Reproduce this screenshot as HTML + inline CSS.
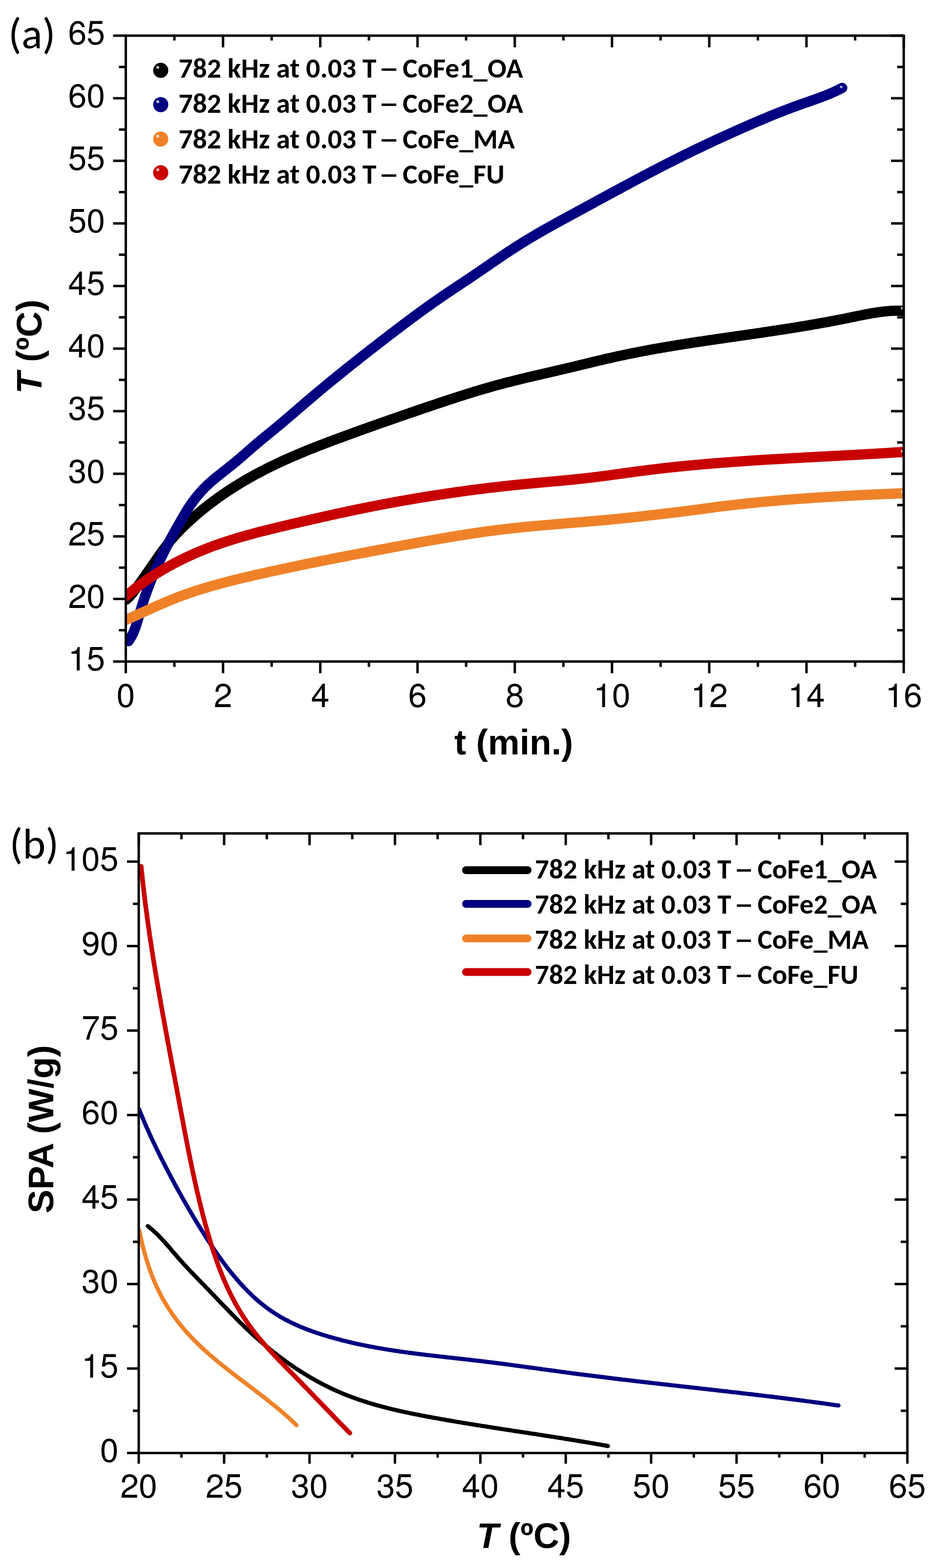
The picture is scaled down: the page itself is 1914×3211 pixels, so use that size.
<!DOCTYPE html>
<html><head><meta charset="utf-8"><title>Heating curves and SPA</title>
<style>html,body{margin:0;padding:0;background:#fff;} svg{display:block;}</style></head>
<body><svg width="1914" height="3211" viewBox="0 0 1914 3211">
<rect width="1914" height="3211" fill="#fff"/>
<defs><clipPath id="ca"><rect x="257.5" y="73.0" width="1592.5" height="1281.7"/></clipPath><clipPath id="cb"><rect x="284.0" y="1706.7285714285715" width="1573.4" height="1268.7714285714285"/></clipPath></defs>
<path d="M258.5,1228.0 L261.2,1225.6 L263.8,1223.0 L266.4,1220.2 L269.0,1217.2 L271.5,1214.1 L273.9,1211.0 L276.4,1207.8 L278.8,1204.5 L281.2,1201.3 L283.6,1198.0 L285.9,1194.8 L288.2,1191.6 L290.5,1188.4 L292.8,1185.2 L295.1,1181.9 L297.4,1178.7 L299.6,1175.5 L301.9,1172.2 L304.1,1169.0 L306.4,1165.7 L308.7,1162.4 L310.9,1159.1 L313.2,1155.8 L315.5,1152.5 L317.8,1149.2 L320.1,1145.8 L322.4,1142.5 L324.7,1139.2 L327.1,1135.8 L329.5,1132.5 L331.9,1129.2 L334.3,1125.9 L336.7,1122.7 L339.2,1119.4 L341.7,1116.2 L344.2,1113.0 L346.7,1109.9 L349.3,1106.7 L351.9,1103.7 L354.6,1100.6 L357.3,1097.6 L360.0,1094.6 L362.7,1091.7 L365.5,1088.8 L368.2,1085.9 L371.0,1083.0 L373.9,1080.2 L376.7,1077.4 L379.6,1074.6 L382.5,1071.8 L385.4,1069.1 L388.3,1066.4 L391.3,1063.7 L394.3,1061.1 L397.2,1058.4 L400.2,1055.8 L403.3,1053.2 L406.3,1050.6 L409.3,1048.1 L412.4,1045.5 L415.5,1043.0 L418.6,1040.5 L421.7,1038.0 L424.8,1035.6 L428.0,1033.1 L431.1,1030.7 L434.3,1028.3 L437.5,1026.0 L440.7,1023.6 L443.9,1021.3 L447.1,1018.9 L450.4,1016.6 L453.6,1014.4 L456.9,1012.1 L460.2,1009.9 L463.4,1007.6 L466.7,1005.4 L470.1,1003.3 L473.4,1001.1 L476.7,998.9 L480.1,996.8 L483.5,994.7 L486.8,992.6 L490.2,990.5 L493.6,988.5 L497.0,986.4 L500.5,984.4 L503.9,982.4 L507.3,980.4 L510.8,978.4 L514.3,976.5 L517.7,974.6 L521.2,972.6 L524.7,970.7 L528.2,968.9 L531.7,967.0 L535.3,965.1 L538.8,963.3 L542.3,961.5 L545.9,959.7 L549.4,957.9 L553.0,956.1 L556.6,954.4 L560.2,952.7 L563.8,950.9 L567.4,949.2 L571.0,947.5 L574.6,945.8 L578.2,944.2 L581.8,942.5 L585.5,940.9 L589.1,939.3 L592.7,937.7 L596.4,936.0 L600.1,934.5 L603.7,932.9 L607.4,931.3 L611.1,929.8 L614.8,928.2 L618.4,926.7 L622.1,925.2 L625.8,923.6 L629.5,922.1 L633.2,920.6 L637.0,919.1 L640.7,917.7 L644.4,916.2 L648.1,914.7 L651.8,913.3 L655.6,911.8 L659.3,910.4 L663.0,908.9 L666.8,907.5 L670.5,906.1 L674.3,904.7 L678.0,903.3 L681.8,901.8 L685.5,900.4 L689.3,899.0 L693.0,897.7 L696.8,896.3 L700.6,894.9 L704.3,893.5 L708.1,892.1 L711.8,890.7 L715.6,889.3 L719.4,888.0 L723.1,886.6 L726.9,885.2 L730.7,883.9 L734.5,882.5 L738.2,881.2 L742.0,879.8 L745.8,878.4 L749.6,877.1 L753.3,875.7 L757.1,874.4 L760.9,873.1 L764.7,871.7 L768.5,870.4 L772.3,869.0 L776.0,867.7 L779.8,866.4 L783.6,865.0 L787.4,863.7 L791.2,862.4 L795.0,861.1 L798.8,859.7 L802.6,858.4 L806.4,857.1 L810.2,855.8 L814.0,854.4 L817.8,853.1 L821.6,851.8 L825.4,850.5 L829.2,849.2 L833.0,847.9 L836.8,846.6 L840.6,845.3 L844.4,844.0 L848.2,842.7 L852.0,841.3 L855.8,840.0 L859.6,838.7 L863.5,837.4 L867.3,836.1 L871.1,834.8 L874.9,833.5 L878.7,832.2 L882.5,830.9 L886.4,829.7 L890.2,828.4 L894.0,827.1 L897.8,825.8 L901.7,824.5 L905.5,823.2 L909.3,822.0 L913.1,820.7 L917.0,819.4 L920.8,818.2 L924.6,816.9 L928.5,815.7 L932.3,814.4 L936.1,813.2 L940.0,811.9 L943.8,810.7 L947.7,809.5 L951.5,808.3 L955.3,807.1 L959.2,805.9 L963.0,804.7 L966.9,803.5 L970.7,802.3 L974.6,801.1 L978.4,800.0 L982.3,798.8 L986.1,797.7 L989.9,796.5 L993.8,795.4 L997.7,794.3 L1001.5,793.2 L1005.4,792.1 L1009.2,791.0 L1013.1,789.9 L1016.9,788.9 L1020.8,787.8 L1024.6,786.8 L1028.5,785.8 L1032.4,784.7 L1036.2,783.7 L1040.1,782.7 L1044.0,781.8 L1047.8,780.8 L1051.7,779.8 L1055.6,778.9 L1059.4,777.9 L1063.3,777.0 L1067.2,776.0 L1071.0,775.1 L1074.9,774.2 L1078.8,773.2 L1082.6,772.3 L1086.5,771.4 L1090.4,770.5 L1094.3,769.6 L1098.1,768.7 L1102.0,767.8 L1105.9,766.9 L1109.8,766.0 L1113.7,765.1 L1117.5,764.2 L1121.4,763.3 L1125.3,762.4 L1129.2,761.5 L1133.1,760.6 L1137.0,759.7 L1140.9,758.8 L1144.7,757.9 L1148.6,757.0 L1152.5,756.1 L1156.4,755.2 L1160.3,754.2 L1164.2,753.3 L1168.1,752.4 L1172.0,751.4 L1175.9,750.5 L1179.8,749.6 L1183.7,748.6 L1187.6,747.7 L1191.5,746.7 L1195.4,745.8 L1199.3,744.8 L1203.2,743.9 L1207.1,743.0 L1211.0,742.0 L1214.9,741.1 L1218.8,740.2 L1222.7,739.2 L1226.6,738.3 L1230.5,737.4 L1234.4,736.5 L1238.3,735.5 L1242.2,734.6 L1246.1,733.7 L1250.0,732.9 L1253.9,732.0 L1257.8,731.1 L1261.7,730.2 L1265.6,729.4 L1269.6,728.5 L1273.5,727.7 L1277.4,726.9 L1281.3,726.0 L1285.2,725.2 L1289.1,724.4 L1293.0,723.6 L1297.0,722.9 L1300.9,722.1 L1304.8,721.3 L1308.7,720.5 L1312.6,719.8 L1316.6,719.0 L1320.5,718.3 L1324.4,717.6 L1328.3,716.8 L1332.2,716.1 L1336.2,715.4 L1340.1,714.7 L1344.0,714.0 L1347.9,713.3 L1351.9,712.6 L1355.8,711.9 L1359.7,711.3 L1363.7,710.6 L1367.6,709.9 L1371.5,709.3 L1375.4,708.6 L1379.4,708.0 L1383.3,707.3 L1387.2,706.7 L1391.2,706.1 L1395.1,705.4 L1399.0,704.8 L1403.0,704.2 L1406.9,703.6 L1410.8,703.0 L1414.8,702.3 L1418.7,701.7 L1422.6,701.1 L1426.6,700.5 L1430.5,699.9 L1434.5,699.3 L1438.4,698.8 L1442.3,698.2 L1446.3,697.6 L1450.2,697.0 L1454.1,696.4 L1458.1,695.8 L1462.0,695.3 L1466.0,694.7 L1469.9,694.1 L1473.9,693.5 L1477.8,693.0 L1481.7,692.4 L1485.7,691.8 L1489.6,691.3 L1493.6,690.7 L1497.5,690.1 L1501.5,689.6 L1505.4,689.0 L1509.4,688.4 L1513.3,687.9 L1517.3,687.3 L1521.2,686.7 L1525.2,686.1 L1529.1,685.6 L1533.1,685.0 L1537.0,684.4 L1541.0,683.9 L1544.9,683.3 L1548.9,682.7 L1552.8,682.1 L1556.8,681.6 L1560.7,681.0 L1564.7,680.4 L1568.6,679.8 L1572.6,679.2 L1576.5,678.6 L1580.5,678.0 L1584.4,677.4 L1588.4,676.8 L1592.3,676.2 L1596.3,675.6 L1600.3,675.0 L1604.2,674.4 L1608.2,673.8 L1612.1,673.2 L1616.1,672.6 L1620.0,671.9 L1624.0,671.3 L1628.0,670.7 L1631.9,670.0 L1635.9,669.4 L1639.8,668.7 L1643.8,668.1 L1647.8,667.4 L1651.7,666.8 L1655.7,666.1 L1659.6,665.4 L1663.6,664.7 L1667.6,664.0 L1671.5,663.3 L1675.5,662.6 L1679.4,661.9 L1683.4,661.2 L1687.4,660.5 L1691.3,659.8 L1695.3,659.1 L1699.3,658.3 L1703.2,657.6 L1707.2,656.8 L1711.1,656.1 L1715.1,655.3 L1719.1,654.5 L1723.0,653.8 L1727.0,653.0 L1731.0,652.2 L1734.9,651.4 L1738.9,650.6 L1742.9,649.7 L1746.8,648.9 L1750.8,648.1 L1754.8,647.3 L1758.7,646.5 L1762.7,645.7 L1766.7,644.9 L1770.6,644.1 L1774.6,643.3 L1778.6,642.6 L1782.5,641.9 L1786.5,641.2 L1790.5,640.6 L1794.4,640.0 L1798.4,639.4 L1802.4,638.8 L1806.3,638.3 L1810.3,637.9 L1814.3,637.5 L1818.2,637.1 L1822.2,636.8 L1826.2,636.6 L1830.1,636.4 L1834.1,636.3 L1838.1,636.3 L1842.0,636.3 L1846.0,636.4" fill="none" stroke="#000000" stroke-width="21" stroke-linecap="round" stroke-linejoin="round" clip-path="url(#ca)"/>
<path d="M263.0,1313.0 L265.3,1309.7 L267.4,1306.3 L269.4,1302.9 L271.2,1299.4 L272.9,1295.9 L274.4,1292.3 L275.8,1288.7 L277.2,1285.0 L278.4,1281.3 L279.7,1277.6 L280.8,1273.8 L281.9,1270.1 L283.0,1266.3 L284.1,1262.4 L285.3,1258.6 L286.4,1254.7 L287.5,1250.9 L288.7,1247.0 L289.9,1243.1 L291.1,1239.3 L292.3,1235.4 L293.6,1231.5 L294.8,1227.7 L296.1,1223.8 L297.4,1220.0 L298.8,1216.2 L300.1,1212.3 L301.5,1208.6 L302.9,1204.8 L304.3,1201.0 L305.7,1197.3 L307.2,1193.6 L308.7,1189.8 L310.2,1186.1 L311.7,1182.4 L313.2,1178.8 L314.8,1175.1 L316.3,1171.4 L317.9,1167.8 L319.5,1164.1 L321.2,1160.5 L322.8,1156.9 L324.5,1153.3 L326.1,1149.7 L327.8,1146.1 L329.6,1142.5 L331.3,1138.9 L333.1,1135.3 L334.8,1131.8 L336.6,1128.2 L338.4,1124.7 L340.2,1121.1 L342.1,1117.5 L343.9,1114.0 L345.8,1110.5 L347.6,1106.9 L349.5,1103.4 L351.5,1099.8 L353.4,1096.3 L355.3,1092.8 L357.3,1089.2 L359.2,1085.7 L361.2,1082.1 L363.2,1078.6 L365.2,1075.1 L367.2,1071.6 L369.2,1068.1 L371.3,1064.6 L373.3,1061.1 L375.3,1057.6 L377.3,1054.2 L379.4,1050.8 L381.4,1047.4 L383.5,1044.0 L385.6,1040.6 L387.8,1037.3 L390.0,1034.0 L392.3,1030.7 L394.6,1027.5 L397.0,1024.3 L399.4,1021.1 L401.9,1018.0 L404.4,1014.9 L407.0,1011.9 L409.6,1008.9 L412.2,1005.9 L414.9,1003.0 L417.6,1000.2 L420.4,997.4 L423.2,994.6 L426.0,991.9 L428.9,989.3 L431.8,986.7 L434.8,984.1 L437.8,981.6 L440.8,979.0 L443.8,976.5 L446.9,974.1 L450.0,971.6 L453.1,969.2 L456.2,966.7 L459.3,964.3 L462.4,961.8 L465.5,959.3 L468.7,956.9 L471.8,954.4 L475.0,951.8 L478.1,949.3 L481.2,946.7 L484.4,944.1 L487.5,941.5 L490.6,938.8 L493.7,936.2 L496.8,933.5 L499.9,930.8 L503.0,928.1 L506.1,925.4 L509.2,922.7 L512.3,920.0 L515.3,917.4 L518.4,914.7 L521.5,912.1 L524.5,909.4 L527.6,906.8 L530.7,904.3 L533.7,901.7 L536.8,899.2 L539.8,896.7 L542.9,894.2 L545.9,891.7 L549.0,889.2 L552.0,886.7 L555.1,884.2 L558.1,881.7 L561.1,879.2 L564.2,876.7 L567.2,874.2 L570.2,871.7 L573.3,869.1 L576.3,866.6 L579.3,864.0 L582.4,861.5 L585.4,858.9 L588.4,856.3 L591.5,853.7 L594.5,851.1 L597.5,848.5 L600.6,845.9 L603.6,843.3 L606.7,840.7 L609.7,838.1 L612.7,835.4 L615.8,832.8 L618.8,830.2 L621.9,827.6 L624.9,825.0 L628.0,822.4 L631.0,819.8 L634.1,817.2 L637.2,814.6 L640.2,812.0 L643.3,809.4 L646.4,806.8 L649.4,804.2 L652.5,801.6 L655.6,799.1 L658.7,796.5 L661.7,793.9 L664.8,791.4 L667.9,788.8 L671.0,786.3 L674.1,783.7 L677.2,781.2 L680.3,778.6 L683.4,776.1 L686.5,773.6 L689.6,771.0 L692.7,768.5 L695.8,766.0 L699.0,763.5 L702.1,761.0 L705.2,758.4 L708.3,755.9 L711.4,753.4 L714.6,750.9 L717.7,748.4 L720.8,745.9 L724.0,743.4 L727.1,740.9 L730.3,738.5 L733.4,736.0 L736.5,733.5 L739.7,731.0 L742.8,728.5 L746.0,726.0 L749.2,723.6 L752.3,721.1 L755.5,718.6 L758.6,716.1 L761.8,713.7 L765.0,711.2 L768.1,708.7 L771.3,706.3 L774.5,703.8 L777.7,701.4 L780.8,698.9 L784.0,696.4 L787.2,694.0 L790.4,691.5 L793.6,689.1 L796.8,686.6 L800.0,684.2 L803.2,681.7 L806.4,679.3 L809.6,676.8 L812.8,674.4 L816.0,672.0 L819.2,669.5 L822.4,667.1 L825.6,664.7 L828.8,662.3 L832.0,659.9 L835.2,657.4 L838.5,655.0 L841.7,652.6 L844.9,650.2 L848.1,647.9 L851.4,645.5 L854.6,643.1 L857.8,640.7 L861.1,638.4 L864.3,636.0 L867.5,633.7 L870.8,631.3 L874.0,629.0 L877.3,626.7 L880.5,624.4 L883.8,622.1 L887.0,619.8 L890.3,617.5 L893.5,615.2 L896.8,613.0 L900.0,610.7 L903.3,608.5 L906.5,606.2 L909.8,604.0 L913.1,601.8 L916.3,599.6 L919.6,597.4 L922.9,595.2 L926.1,593.0 L929.4,590.9 L932.7,588.7 L936.0,586.5 L939.3,584.3 L942.5,582.1 L945.8,580.0 L949.1,577.8 L952.4,575.6 L955.7,573.4 L959.0,571.2 L962.3,569.0 L965.6,566.8 L968.9,564.5 L972.2,562.3 L975.5,560.0 L978.9,557.8 L982.2,555.5 L985.5,553.2 L988.8,551.0 L992.1,548.7 L995.5,546.4 L998.8,544.1 L1002.2,541.8 L1005.5,539.5 L1008.8,537.2 L1012.2,534.9 L1015.5,532.6 L1018.9,530.3 L1022.3,528.0 L1025.6,525.7 L1029.0,523.4 L1032.4,521.2 L1035.7,518.9 L1039.1,516.6 L1042.5,514.4 L1045.9,512.2 L1049.3,510.0 L1052.7,507.8 L1056.1,505.6 L1059.5,503.4 L1062.9,501.2 L1066.3,499.1 L1069.7,497.0 L1073.2,494.8 L1076.6,492.7 L1080.0,490.7 L1083.4,488.6 L1086.9,486.5 L1090.3,484.5 L1093.8,482.4 L1097.2,480.4 L1100.7,478.4 L1104.1,476.4 L1107.6,474.4 L1111.0,472.4 L1114.5,470.4 L1118.0,468.5 L1121.5,466.5 L1124.9,464.6 L1128.4,462.6 L1131.9,460.7 L1135.4,458.8 L1138.8,456.8 L1142.3,454.9 L1145.8,453.0 L1149.3,451.1 L1152.8,449.2 L1156.3,447.3 L1159.8,445.4 L1163.3,443.5 L1166.8,441.6 L1170.3,439.7 L1173.8,437.8 L1177.3,435.9 L1180.8,434.0 L1184.3,432.1 L1187.8,430.2 L1191.3,428.3 L1194.8,426.4 L1198.3,424.5 L1201.8,422.6 L1205.3,420.7 L1208.8,418.8 L1212.3,416.9 L1215.8,415.0 L1219.3,413.0 L1222.8,411.1 L1226.3,409.2 L1229.9,407.3 L1233.4,405.4 L1236.9,403.5 L1240.4,401.6 L1243.9,399.7 L1247.4,397.8 L1251.0,395.9 L1254.5,394.0 L1258.0,392.1 L1261.5,390.2 L1265.0,388.3 L1268.6,386.4 L1272.1,384.5 L1275.6,382.6 L1279.2,380.7 L1282.7,378.8 L1286.2,376.9 L1289.8,375.0 L1293.3,373.1 L1296.8,371.2 L1300.4,369.3 L1303.9,367.5 L1307.4,365.6 L1311.0,363.7 L1314.5,361.8 L1318.1,359.9 L1321.6,358.1 L1325.2,356.2 L1328.7,354.3 L1332.3,352.5 L1335.8,350.6 L1339.4,348.8 L1342.9,346.9 L1346.5,345.1 L1350.1,343.2 L1353.6,341.4 L1357.2,339.6 L1360.8,337.7 L1364.3,335.9 L1367.9,334.1 L1371.5,332.3 L1375.1,330.5 L1378.6,328.7 L1382.2,326.9 L1385.8,325.1 L1389.4,323.3 L1393.0,321.5 L1396.6,319.7 L1400.1,317.9 L1403.7,316.1 L1407.3,314.4 L1410.9,312.6 L1414.5,310.9 L1418.1,309.1 L1421.7,307.4 L1425.3,305.6 L1429.0,303.9 L1432.6,302.2 L1436.2,300.5 L1439.8,298.7 L1443.4,297.0 L1447.0,295.3 L1450.7,293.6 L1454.3,291.9 L1457.9,290.2 L1461.5,288.5 L1465.2,286.8 L1468.8,285.2 L1472.5,283.5 L1476.1,281.8 L1479.7,280.1 L1483.4,278.5 L1487.0,276.8 L1490.7,275.2 L1494.4,273.5 L1498.0,271.8 L1501.7,270.2 L1505.3,268.6 L1509.0,266.9 L1512.7,265.3 L1516.4,263.6 L1520.0,262.0 L1523.7,260.4 L1527.4,258.8 L1531.1,257.2 L1534.8,255.5 L1538.5,253.9 L1542.1,252.3 L1545.8,250.8 L1549.5,249.2 L1553.2,247.6 L1556.9,246.0 L1560.6,244.5 L1564.3,242.9 L1568.0,241.4 L1571.7,239.8 L1575.4,238.3 L1579.1,236.8 L1582.9,235.3 L1586.6,233.8 L1590.3,232.3 L1594.0,230.8 L1597.7,229.4 L1601.4,227.9 L1605.1,226.4 L1608.8,225.0 L1612.6,223.6 L1616.3,222.2 L1620.0,220.8 L1623.7,219.4 L1627.4,218.0 L1631.2,216.7 L1634.9,215.3 L1638.6,214.0 L1642.3,212.7 L1646.0,211.3 L1649.7,210.0 L1653.5,208.8 L1657.2,207.5 L1660.9,206.2 L1664.6,204.9 L1668.3,203.6 L1672.1,202.2 L1675.8,200.9 L1679.5,199.5 L1683.2,198.1 L1686.9,196.7 L1690.6,195.3 L1694.3,193.8 L1698.1,192.2 L1701.8,190.6 L1705.5,189.0 L1709.2,187.3 L1712.9,185.6 L1716.6,183.8 L1720.3,181.9 L1724.0,180.0" fill="none" stroke="#000080" stroke-width="21" stroke-linecap="round" stroke-linejoin="round" clip-path="url(#ca)"/>
<path d="M258.0,1269.3 L261.7,1267.7 L265.4,1266.1 L269.0,1264.4 L272.7,1262.8 L276.4,1261.1 L280.1,1259.5 L283.8,1257.8 L287.5,1256.1 L291.3,1254.4 L295.0,1252.7 L298.7,1251.1 L302.4,1249.4 L306.1,1247.7 L309.8,1246.0 L313.6,1244.3 L317.3,1242.7 L321.0,1241.0 L324.7,1239.3 L328.5,1237.7 L332.2,1236.1 L336.0,1234.5 L339.7,1232.9 L343.4,1231.3 L347.2,1229.7 L350.9,1228.2 L354.7,1226.7 L358.5,1225.2 L362.2,1223.7 L366.0,1222.3 L369.7,1220.9 L373.5,1219.5 L377.3,1218.1 L381.0,1216.8 L384.8,1215.5 L388.6,1214.1 L392.4,1212.9 L396.1,1211.6 L399.9,1210.3 L403.7,1209.1 L407.5,1207.9 L411.3,1206.7 L415.1,1205.5 L418.9,1204.4 L422.7,1203.2 L426.5,1202.1 L430.3,1201.0 L434.1,1199.9 L437.9,1198.8 L441.7,1197.8 L445.5,1196.7 L449.3,1195.7 L453.1,1194.6 L456.9,1193.6 L460.7,1192.6 L464.6,1191.6 L468.4,1190.6 L472.2,1189.7 L476.0,1188.7 L479.9,1187.7 L483.7,1186.8 L487.5,1185.9 L491.4,1184.9 L495.2,1184.0 L499.0,1183.1 L502.9,1182.2 L506.7,1181.3 L510.6,1180.4 L514.4,1179.5 L518.3,1178.6 L522.1,1177.7 L526.0,1176.8 L529.8,1176.0 L533.7,1175.1 L537.5,1174.2 L541.4,1173.4 L545.2,1172.5 L549.1,1171.6 L553.0,1170.8 L556.8,1169.9 L560.7,1169.1 L564.6,1168.2 L568.4,1167.4 L572.3,1166.6 L576.2,1165.7 L580.1,1164.9 L583.9,1164.1 L587.8,1163.2 L591.7,1162.4 L595.6,1161.6 L599.5,1160.8 L603.4,1160.0 L607.2,1159.1 L611.1,1158.3 L615.0,1157.5 L618.9,1156.7 L622.8,1155.9 L626.7,1155.1 L630.6,1154.3 L634.5,1153.5 L638.4,1152.7 L642.3,1151.9 L646.2,1151.2 L650.1,1150.4 L654.0,1149.6 L657.9,1148.8 L661.8,1148.0 L665.7,1147.2 L669.7,1146.5 L673.6,1145.7 L677.5,1144.9 L681.4,1144.2 L685.3,1143.4 L689.2,1142.6 L693.1,1141.9 L697.1,1141.1 L701.0,1140.3 L704.9,1139.6 L708.8,1138.8 L712.8,1138.1 L716.7,1137.3 L720.6,1136.5 L724.5,1135.8 L728.5,1135.0 L732.4,1134.3 L736.3,1133.5 L740.3,1132.8 L744.2,1132.0 L748.1,1131.3 L752.1,1130.6 L756.0,1129.8 L760.0,1129.1 L763.9,1128.3 L767.8,1127.6 L771.8,1126.8 L775.7,1126.1 L779.7,1125.4 L783.6,1124.6 L787.6,1123.9 L791.5,1123.2 L795.4,1122.4 L799.4,1121.7 L803.3,1120.9 L807.3,1120.2 L811.2,1119.5 L815.2,1118.7 L819.1,1118.0 L823.1,1117.3 L827.1,1116.5 L831.0,1115.8 L835.0,1115.1 L838.9,1114.3 L842.9,1113.6 L846.8,1112.9 L850.8,1112.2 L854.8,1111.4 L858.7,1110.7 L862.7,1110.0 L866.6,1109.3 L870.6,1108.6 L874.6,1107.9 L878.5,1107.2 L882.5,1106.5 L886.5,1105.8 L890.4,1105.1 L894.4,1104.4 L898.4,1103.7 L902.3,1103.0 L906.3,1102.3 L910.3,1101.6 L914.2,1101.0 L918.2,1100.3 L922.2,1099.6 L926.1,1099.0 L930.1,1098.3 L934.1,1097.7 L938.0,1097.0 L942.0,1096.4 L946.0,1095.8 L950.0,1095.1 L953.9,1094.5 L957.9,1093.9 L961.9,1093.3 L965.8,1092.7 L969.8,1092.1 L973.8,1091.5 L977.8,1090.9 L981.7,1090.4 L985.7,1089.8 L989.7,1089.2 L993.7,1088.7 L997.6,1088.1 L1001.6,1087.6 L1005.6,1087.1 L1009.6,1086.5 L1013.5,1086.0 L1017.5,1085.5 L1021.5,1085.0 L1025.5,1084.5 L1029.5,1084.1 L1033.4,1083.6 L1037.4,1083.1 L1041.4,1082.7 L1045.4,1082.2 L1049.3,1081.8 L1053.3,1081.4 L1057.3,1080.9 L1061.3,1080.5 L1065.2,1080.1 L1069.2,1079.7 L1073.2,1079.3 L1077.2,1078.9 L1081.2,1078.5 L1085.1,1078.1 L1089.1,1077.8 L1093.1,1077.4 L1097.1,1077.0 L1101.0,1076.7 L1105.0,1076.3 L1109.0,1075.9 L1113.0,1075.6 L1117.0,1075.2 L1120.9,1074.9 L1124.9,1074.6 L1128.9,1074.2 L1132.9,1073.9 L1136.8,1073.5 L1140.8,1073.2 L1144.8,1072.9 L1148.8,1072.6 L1152.8,1072.2 L1156.7,1071.9 L1160.7,1071.6 L1164.7,1071.2 L1168.7,1070.9 L1172.7,1070.6 L1176.6,1070.3 L1180.6,1069.9 L1184.6,1069.6 L1188.6,1069.3 L1192.6,1069.0 L1196.5,1068.6 L1200.5,1068.3 L1204.5,1068.0 L1208.5,1067.6 L1212.5,1067.3 L1216.4,1066.9 L1220.4,1066.6 L1224.4,1066.3 L1228.4,1065.9 L1232.4,1065.5 L1236.3,1065.2 L1240.3,1064.8 L1244.3,1064.5 L1248.3,1064.1 L1252.3,1063.7 L1256.2,1063.3 L1260.2,1063.0 L1264.2,1062.6 L1268.2,1062.2 L1272.2,1061.8 L1276.1,1061.4 L1280.1,1060.9 L1284.1,1060.5 L1288.1,1060.1 L1292.1,1059.7 L1296.0,1059.3 L1300.0,1058.8 L1304.0,1058.4 L1308.0,1057.9 L1312.0,1057.5 L1316.0,1057.1 L1319.9,1056.6 L1323.9,1056.2 L1327.9,1055.7 L1331.9,1055.2 L1335.9,1054.8 L1339.8,1054.3 L1343.8,1053.9 L1347.8,1053.4 L1351.8,1052.9 L1355.8,1052.5 L1359.8,1052.0 L1363.7,1051.5 L1367.7,1051.0 L1371.7,1050.6 L1375.7,1050.1 L1379.7,1049.6 L1383.7,1049.1 L1387.6,1048.7 L1391.6,1048.2 L1395.6,1047.7 L1399.6,1047.2 L1403.6,1046.7 L1407.6,1046.2 L1411.5,1045.7 L1415.5,1045.2 L1419.5,1044.7 L1423.5,1044.1 L1427.5,1043.6 L1431.5,1043.1 L1435.4,1042.5 L1439.4,1042.0 L1443.4,1041.4 L1447.4,1040.9 L1451.4,1040.3 L1455.4,1039.8 L1459.3,1039.3 L1463.3,1038.7 L1467.3,1038.2 L1471.3,1037.7 L1475.3,1037.2 L1479.3,1036.7 L1483.2,1036.2 L1487.2,1035.8 L1491.2,1035.3 L1495.2,1034.8 L1499.2,1034.3 L1503.2,1033.9 L1507.2,1033.4 L1511.1,1033.0 L1515.1,1032.5 L1519.1,1032.1 L1523.1,1031.7 L1527.1,1031.2 L1531.1,1030.8 L1535.0,1030.4 L1539.0,1030.0 L1543.0,1029.6 L1547.0,1029.2 L1551.0,1028.8 L1555.0,1028.4 L1559.0,1028.0 L1562.9,1027.7 L1566.9,1027.3 L1570.9,1026.9 L1574.9,1026.6 L1578.9,1026.2 L1582.9,1025.8 L1586.9,1025.5 L1590.8,1025.1 L1594.8,1024.8 L1598.8,1024.5 L1602.8,1024.1 L1606.8,1023.8 L1610.8,1023.5 L1614.8,1023.2 L1618.7,1022.9 L1622.7,1022.5 L1626.7,1022.2 L1630.7,1021.9 L1634.7,1021.6 L1638.7,1021.4 L1642.7,1021.1 L1646.6,1020.8 L1650.6,1020.5 L1654.6,1020.2 L1658.6,1019.9 L1662.6,1019.7 L1666.6,1019.4 L1670.6,1019.1 L1674.5,1018.9 L1678.5,1018.6 L1682.5,1018.4 L1686.5,1018.1 L1690.5,1017.9 L1694.5,1017.6 L1698.5,1017.4 L1702.5,1017.2 L1706.4,1016.9 L1710.4,1016.7 L1714.4,1016.5 L1718.4,1016.2 L1722.4,1016.0 L1726.4,1015.8 L1730.4,1015.6 L1734.3,1015.4 L1738.3,1015.2 L1742.3,1014.9 L1746.3,1014.7 L1750.3,1014.5 L1754.3,1014.3 L1758.3,1014.1 L1762.3,1013.9 L1766.2,1013.7 L1770.2,1013.5 L1774.2,1013.3 L1778.2,1013.2 L1782.2,1013.0 L1786.2,1012.8 L1790.2,1012.6 L1794.2,1012.4 L1798.1,1012.2 L1802.1,1012.1 L1806.1,1011.9 L1810.1,1011.7 L1814.1,1011.5 L1818.1,1011.4 L1822.1,1011.2 L1826.1,1011.0 L1830.0,1010.9 L1834.0,1010.7 L1838.0,1010.5 L1842.0,1010.4 L1846.0,1010.2" fill="none" stroke="#ef8229" stroke-width="21" stroke-linecap="round" stroke-linejoin="round" clip-path="url(#ca)"/>
<path d="M258.0,1220.8 L261.1,1218.1 L264.2,1215.4 L267.4,1212.8 L270.5,1210.2 L273.7,1207.6 L276.9,1205.1 L280.1,1202.6 L283.3,1200.2 L286.5,1197.7 L289.8,1195.3 L293.1,1192.9 L296.3,1190.6 L299.6,1188.3 L303.0,1186.0 L306.3,1183.7 L309.6,1181.5 L313.0,1179.3 L316.3,1177.2 L319.7,1175.0 L323.1,1172.9 L326.5,1170.8 L329.9,1168.7 L333.4,1166.7 L336.8,1164.7 L340.3,1162.7 L343.7,1160.7 L347.2,1158.8 L350.7,1156.9 L354.2,1155.0 L357.7,1153.1 L361.2,1151.3 L364.8,1149.5 L368.3,1147.7 L371.8,1145.9 L375.4,1144.2 L379.0,1142.4 L382.6,1140.7 L386.2,1139.1 L389.8,1137.4 L393.4,1135.8 L397.0,1134.2 L400.6,1132.6 L404.3,1131.0 L407.9,1129.5 L411.6,1128.0 L415.2,1126.5 L418.9,1125.0 L422.6,1123.5 L426.2,1122.1 L429.9,1120.7 L433.6,1119.3 L437.3,1117.9 L441.0,1116.6 L444.8,1115.3 L448.5,1114.0 L452.2,1112.7 L455.9,1111.4 L459.7,1110.2 L463.4,1108.9 L467.2,1107.7 L470.9,1106.5 L474.7,1105.3 L478.5,1104.2 L482.2,1103.0 L486.0,1101.9 L489.8,1100.8 L493.6,1099.6 L497.4,1098.6 L501.2,1097.5 L505.0,1096.4 L508.8,1095.3 L512.6,1094.3 L516.4,1093.3 L520.2,1092.2 L524.1,1091.2 L527.9,1090.2 L531.7,1089.2 L535.6,1088.2 L539.4,1087.3 L543.3,1086.3 L547.1,1085.3 L551.0,1084.4 L554.9,1083.4 L558.7,1082.4 L562.6,1081.5 L566.5,1080.6 L570.3,1079.6 L574.2,1078.7 L578.1,1077.8 L582.0,1076.8 L585.9,1075.9 L589.8,1075.0 L593.7,1074.1 L597.6,1073.1 L601.5,1072.2 L605.4,1071.3 L609.3,1070.4 L613.2,1069.5 L617.1,1068.5 L621.1,1067.6 L625.0,1066.7 L628.9,1065.8 L632.8,1064.9 L636.8,1064.0 L640.7,1063.1 L644.6,1062.2 L648.6,1061.3 L652.5,1060.4 L656.4,1059.5 L660.4,1058.6 L664.3,1057.7 L668.3,1056.9 L672.2,1056.0 L676.2,1055.1 L680.1,1054.2 L684.1,1053.4 L688.0,1052.5 L692.0,1051.6 L695.9,1050.8 L699.9,1049.9 L703.8,1049.1 L707.8,1048.2 L711.7,1047.4 L715.7,1046.5 L719.7,1045.7 L723.6,1044.9 L727.6,1044.0 L731.5,1043.2 L735.5,1042.4 L739.5,1041.6 L743.4,1040.8 L747.4,1040.0 L751.4,1039.2 L755.3,1038.4 L759.3,1037.6 L763.3,1036.8 L767.2,1036.0 L771.2,1035.3 L775.1,1034.5 L779.1,1033.7 L783.1,1033.0 L787.0,1032.2 L791.0,1031.5 L795.0,1030.7 L798.9,1030.0 L802.9,1029.3 L806.9,1028.6 L810.8,1027.8 L814.8,1027.1 L818.7,1026.4 L822.7,1025.7 L826.7,1025.0 L830.6,1024.3 L834.6,1023.6 L838.6,1022.9 L842.5,1022.3 L846.5,1021.6 L850.5,1020.9 L854.4,1020.2 L858.4,1019.6 L862.3,1018.9 L866.3,1018.3 L870.3,1017.6 L874.2,1017.0 L878.2,1016.4 L882.2,1015.7 L886.1,1015.1 L890.1,1014.5 L894.1,1013.9 L898.0,1013.3 L902.0,1012.7 L906.0,1012.1 L909.9,1011.5 L913.9,1010.9 L917.8,1010.3 L921.8,1009.7 L925.8,1009.2 L929.7,1008.6 L933.7,1008.0 L937.7,1007.5 L941.6,1006.9 L945.6,1006.4 L949.6,1005.8 L953.5,1005.3 L957.5,1004.7 L961.5,1004.2 L965.4,1003.7 L969.4,1003.2 L973.4,1002.7 L977.3,1002.2 L981.3,1001.6 L985.3,1001.1 L989.2,1000.7 L993.2,1000.2 L997.2,999.7 L1001.1,999.2 L1005.1,998.7 L1009.1,998.3 L1013.0,997.8 L1017.0,997.3 L1021.0,996.9 L1024.9,996.4 L1028.9,996.0 L1032.9,995.5 L1036.8,995.1 L1040.8,994.7 L1044.8,994.3 L1048.7,993.8 L1052.7,993.4 L1056.7,993.0 L1060.6,992.6 L1064.6,992.2 L1068.6,991.8 L1072.5,991.4 L1076.5,991.0 L1080.5,990.6 L1084.4,990.3 L1088.4,989.9 L1092.4,989.5 L1096.3,989.2 L1100.3,988.8 L1104.3,988.4 L1108.2,988.1 L1112.2,987.7 L1116.2,987.4 L1120.1,987.0 L1124.1,986.6 L1128.1,986.3 L1132.1,985.9 L1136.0,985.6 L1140.0,985.2 L1144.0,984.8 L1147.9,984.5 L1151.9,984.1 L1155.9,983.7 L1159.8,983.3 L1163.8,983.0 L1167.8,982.6 L1171.8,982.2 L1175.7,981.8 L1179.7,981.4 L1183.7,981.0 L1187.6,980.6 L1191.6,980.1 L1195.6,979.7 L1199.6,979.3 L1203.5,978.8 L1207.5,978.3 L1211.5,977.9 L1215.4,977.4 L1219.4,976.9 L1223.4,976.4 L1227.4,975.9 L1231.3,975.4 L1235.3,974.9 L1239.3,974.3 L1243.3,973.8 L1247.2,973.3 L1251.2,972.7 L1255.2,972.2 L1259.2,971.6 L1263.1,971.1 L1267.1,970.6 L1271.1,970.0 L1275.1,969.5 L1279.0,968.9 L1283.0,968.4 L1287.0,967.8 L1291.0,967.3 L1294.9,966.7 L1298.9,966.2 L1302.9,965.7 L1306.9,965.1 L1310.8,964.6 L1314.8,964.1 L1318.8,963.6 L1322.8,963.1 L1326.7,962.6 L1330.7,962.1 L1334.7,961.6 L1338.7,961.1 L1342.7,960.6 L1346.6,960.2 L1350.6,959.7 L1354.6,959.2 L1358.6,958.8 L1362.6,958.3 L1366.5,957.9 L1370.5,957.5 L1374.5,957.0 L1378.5,956.6 L1382.5,956.2 L1386.4,955.8 L1390.4,955.4 L1394.4,955.0 L1398.4,954.6 L1402.4,954.2 L1406.3,953.8 L1410.3,953.4 L1414.3,953.0 L1418.3,952.7 L1422.3,952.3 L1426.3,951.9 L1430.2,951.6 L1434.2,951.2 L1438.2,950.9 L1442.2,950.5 L1446.2,950.2 L1450.2,949.8 L1454.1,949.5 L1458.1,949.2 L1462.1,948.8 L1466.1,948.5 L1470.1,948.2 L1474.1,947.9 L1478.1,947.6 L1482.0,947.3 L1486.0,947.0 L1490.0,946.7 L1494.0,946.4 L1498.0,946.1 L1502.0,945.8 L1506.0,945.5 L1509.9,945.2 L1513.9,945.0 L1517.9,944.7 L1521.9,944.4 L1525.9,944.1 L1529.9,943.9 L1533.9,943.6 L1537.9,943.3 L1541.9,943.1 L1545.9,942.8 L1549.8,942.6 L1553.8,942.3 L1557.8,942.1 L1561.8,941.8 L1565.8,941.6 L1569.8,941.3 L1573.8,941.1 L1577.8,940.8 L1581.8,940.6 L1585.8,940.4 L1589.8,940.1 L1593.8,939.9 L1597.8,939.7 L1601.7,939.4 L1605.7,939.2 L1609.7,939.0 L1613.7,938.8 L1617.7,938.5 L1621.7,938.3 L1625.7,938.1 L1629.7,937.9 L1633.7,937.7 L1637.7,937.4 L1641.7,937.2 L1645.7,937.0 L1649.7,936.8 L1653.7,936.6 L1657.7,936.4 L1661.7,936.1 L1665.7,935.9 L1669.7,935.7 L1673.7,935.5 L1677.7,935.3 L1681.7,935.1 L1685.7,934.9 L1689.7,934.7 L1693.7,934.4 L1697.7,934.2 L1701.7,934.0 L1705.7,933.8 L1709.7,933.6 L1713.7,933.4 L1717.7,933.2 L1721.7,933.0 L1725.7,932.7 L1729.7,932.5 L1733.7,932.3 L1737.7,932.1 L1741.7,931.9 L1745.7,931.7 L1749.8,931.4 L1753.8,931.2 L1757.8,931.0 L1761.8,930.8 L1765.8,930.6 L1769.8,930.3 L1773.8,930.1 L1777.8,929.9 L1781.8,929.6 L1785.8,929.4 L1789.8,929.2 L1793.8,928.9 L1797.9,928.7 L1801.9,928.5 L1805.9,928.2 L1809.9,928.0 L1813.9,927.7 L1817.9,927.5 L1821.9,927.2 L1825.9,927.0 L1829.9,926.7 L1834.0,926.5 L1838.0,926.2 L1842.0,926.0 L1846.0,925.7" fill="none" stroke="#c80000" stroke-width="21" stroke-linecap="round" stroke-linejoin="round" clip-path="url(#ca)"/>
<circle cx="1722" cy="178" r="2.6" fill="#fff" fill-opacity="0.7"/>
<circle cx="1846.5" cy="631" r="2.6" fill="#fff" fill-opacity="0.7"/>
<circle cx="1846.5" cy="924" r="2.6" fill="#fff" fill-opacity="0.7"/>
<circle cx="1846.5" cy="1007" r="2.6" fill="#fff" fill-opacity="0.7"/>
<line x1="231.5" y1="1354.7" x2="257.5" y2="1354.7" stroke="#000" stroke-width="5"/>
<line x1="1850.0" y1="1354.7" x2="1824.0" y2="1354.7" stroke="#000" stroke-width="5"/>
<line x1="243.5" y1="1290.6" x2="257.5" y2="1290.6" stroke="#000" stroke-width="5"/>
<line x1="1850.0" y1="1290.6" x2="1836.5" y2="1290.6" stroke="#000" stroke-width="5"/>
<line x1="231.5" y1="1226.5" x2="257.5" y2="1226.5" stroke="#000" stroke-width="5"/>
<line x1="1850.0" y1="1226.5" x2="1824.0" y2="1226.5" stroke="#000" stroke-width="5"/>
<line x1="243.5" y1="1162.4" x2="257.5" y2="1162.4" stroke="#000" stroke-width="5"/>
<line x1="1850.0" y1="1162.4" x2="1836.5" y2="1162.4" stroke="#000" stroke-width="5"/>
<line x1="231.5" y1="1098.4" x2="257.5" y2="1098.4" stroke="#000" stroke-width="5"/>
<line x1="1850.0" y1="1098.4" x2="1824.0" y2="1098.4" stroke="#000" stroke-width="5"/>
<line x1="243.5" y1="1034.3" x2="257.5" y2="1034.3" stroke="#000" stroke-width="5"/>
<line x1="1850.0" y1="1034.3" x2="1836.5" y2="1034.3" stroke="#000" stroke-width="5"/>
<line x1="231.5" y1="970.2" x2="257.5" y2="970.2" stroke="#000" stroke-width="5"/>
<line x1="1850.0" y1="970.2" x2="1824.0" y2="970.2" stroke="#000" stroke-width="5"/>
<line x1="243.5" y1="906.1" x2="257.5" y2="906.1" stroke="#000" stroke-width="5"/>
<line x1="1850.0" y1="906.1" x2="1836.5" y2="906.1" stroke="#000" stroke-width="5"/>
<line x1="231.5" y1="842.0" x2="257.5" y2="842.0" stroke="#000" stroke-width="5"/>
<line x1="1850.0" y1="842.0" x2="1824.0" y2="842.0" stroke="#000" stroke-width="5"/>
<line x1="243.5" y1="777.9" x2="257.5" y2="777.9" stroke="#000" stroke-width="5"/>
<line x1="1850.0" y1="777.9" x2="1836.5" y2="777.9" stroke="#000" stroke-width="5"/>
<line x1="231.5" y1="713.9" x2="257.5" y2="713.9" stroke="#000" stroke-width="5"/>
<line x1="1850.0" y1="713.9" x2="1824.0" y2="713.9" stroke="#000" stroke-width="5"/>
<line x1="243.5" y1="649.8" x2="257.5" y2="649.8" stroke="#000" stroke-width="5"/>
<line x1="1850.0" y1="649.8" x2="1836.5" y2="649.8" stroke="#000" stroke-width="5"/>
<line x1="231.5" y1="585.7" x2="257.5" y2="585.7" stroke="#000" stroke-width="5"/>
<line x1="1850.0" y1="585.7" x2="1824.0" y2="585.7" stroke="#000" stroke-width="5"/>
<line x1="243.5" y1="521.6" x2="257.5" y2="521.6" stroke="#000" stroke-width="5"/>
<line x1="1850.0" y1="521.6" x2="1836.5" y2="521.6" stroke="#000" stroke-width="5"/>
<line x1="231.5" y1="457.5" x2="257.5" y2="457.5" stroke="#000" stroke-width="5"/>
<line x1="1850.0" y1="457.5" x2="1824.0" y2="457.5" stroke="#000" stroke-width="5"/>
<line x1="243.5" y1="393.4" x2="257.5" y2="393.4" stroke="#000" stroke-width="5"/>
<line x1="1850.0" y1="393.4" x2="1836.5" y2="393.4" stroke="#000" stroke-width="5"/>
<line x1="231.5" y1="329.3" x2="257.5" y2="329.3" stroke="#000" stroke-width="5"/>
<line x1="1850.0" y1="329.3" x2="1824.0" y2="329.3" stroke="#000" stroke-width="5"/>
<line x1="243.5" y1="265.3" x2="257.5" y2="265.3" stroke="#000" stroke-width="5"/>
<line x1="1850.0" y1="265.3" x2="1836.5" y2="265.3" stroke="#000" stroke-width="5"/>
<line x1="231.5" y1="201.2" x2="257.5" y2="201.2" stroke="#000" stroke-width="5"/>
<line x1="1850.0" y1="201.2" x2="1824.0" y2="201.2" stroke="#000" stroke-width="5"/>
<line x1="243.5" y1="137.1" x2="257.5" y2="137.1" stroke="#000" stroke-width="5"/>
<line x1="1850.0" y1="137.1" x2="1836.5" y2="137.1" stroke="#000" stroke-width="5"/>
<line x1="231.5" y1="73.0" x2="257.5" y2="73.0" stroke="#000" stroke-width="5"/>
<line x1="1850.0" y1="73.0" x2="1824.0" y2="73.0" stroke="#000" stroke-width="5"/>
<line x1="257.5" y1="1354.7" x2="257.5" y2="1378.7" stroke="#000" stroke-width="5"/>
<line x1="257.5" y1="73.0" x2="257.5" y2="97.0" stroke="#000" stroke-width="5"/>
<line x1="357.0" y1="1354.7" x2="357.0" y2="1365.7" stroke="#000" stroke-width="5"/>
<line x1="357.0" y1="73.0" x2="357.0" y2="83.0" stroke="#000" stroke-width="5"/>
<line x1="456.6" y1="1354.7" x2="456.6" y2="1378.7" stroke="#000" stroke-width="5"/>
<line x1="456.6" y1="73.0" x2="456.6" y2="97.0" stroke="#000" stroke-width="5"/>
<line x1="556.1" y1="1354.7" x2="556.1" y2="1365.7" stroke="#000" stroke-width="5"/>
<line x1="556.1" y1="73.0" x2="556.1" y2="83.0" stroke="#000" stroke-width="5"/>
<line x1="655.6" y1="1354.7" x2="655.6" y2="1378.7" stroke="#000" stroke-width="5"/>
<line x1="655.6" y1="73.0" x2="655.6" y2="97.0" stroke="#000" stroke-width="5"/>
<line x1="755.2" y1="1354.7" x2="755.2" y2="1365.7" stroke="#000" stroke-width="5"/>
<line x1="755.2" y1="73.0" x2="755.2" y2="83.0" stroke="#000" stroke-width="5"/>
<line x1="854.7" y1="1354.7" x2="854.7" y2="1378.7" stroke="#000" stroke-width="5"/>
<line x1="854.7" y1="73.0" x2="854.7" y2="97.0" stroke="#000" stroke-width="5"/>
<line x1="954.2" y1="1354.7" x2="954.2" y2="1365.7" stroke="#000" stroke-width="5"/>
<line x1="954.2" y1="73.0" x2="954.2" y2="83.0" stroke="#000" stroke-width="5"/>
<line x1="1053.8" y1="1354.7" x2="1053.8" y2="1378.7" stroke="#000" stroke-width="5"/>
<line x1="1053.8" y1="73.0" x2="1053.8" y2="97.0" stroke="#000" stroke-width="5"/>
<line x1="1153.3" y1="1354.7" x2="1153.3" y2="1365.7" stroke="#000" stroke-width="5"/>
<line x1="1153.3" y1="73.0" x2="1153.3" y2="83.0" stroke="#000" stroke-width="5"/>
<line x1="1252.8" y1="1354.7" x2="1252.8" y2="1378.7" stroke="#000" stroke-width="5"/>
<line x1="1252.8" y1="73.0" x2="1252.8" y2="97.0" stroke="#000" stroke-width="5"/>
<line x1="1352.3" y1="1354.7" x2="1352.3" y2="1365.7" stroke="#000" stroke-width="5"/>
<line x1="1352.3" y1="73.0" x2="1352.3" y2="83.0" stroke="#000" stroke-width="5"/>
<line x1="1451.9" y1="1354.7" x2="1451.9" y2="1378.7" stroke="#000" stroke-width="5"/>
<line x1="1451.9" y1="73.0" x2="1451.9" y2="97.0" stroke="#000" stroke-width="5"/>
<line x1="1551.4" y1="1354.7" x2="1551.4" y2="1365.7" stroke="#000" stroke-width="5"/>
<line x1="1551.4" y1="73.0" x2="1551.4" y2="83.0" stroke="#000" stroke-width="5"/>
<line x1="1650.9" y1="1354.7" x2="1650.9" y2="1378.7" stroke="#000" stroke-width="5"/>
<line x1="1650.9" y1="73.0" x2="1650.9" y2="97.0" stroke="#000" stroke-width="5"/>
<line x1="1750.5" y1="1354.7" x2="1750.5" y2="1365.7" stroke="#000" stroke-width="5"/>
<line x1="1750.5" y1="73.0" x2="1750.5" y2="83.0" stroke="#000" stroke-width="5"/>
<line x1="1850.0" y1="1354.7" x2="1850.0" y2="1378.7" stroke="#000" stroke-width="5"/>
<line x1="1850.0" y1="73.0" x2="1850.0" y2="97.0" stroke="#000" stroke-width="5"/>
<rect x="257.5" y="73.0" width="1592.5" height="1281.7" fill="none" stroke="#000" stroke-width="5" stroke-linejoin="miter"/>
<text x="215.0" y="1373.0" text-anchor="end" font-family="TeX Gyre Heros, Liberation Sans, Arial, sans-serif" font-size="68">15</text>
<text x="215.0" y="1244.8" text-anchor="end" font-family="TeX Gyre Heros, Liberation Sans, Arial, sans-serif" font-size="68">20</text>
<text x="215.0" y="1116.7" text-anchor="end" font-family="TeX Gyre Heros, Liberation Sans, Arial, sans-serif" font-size="68">25</text>
<text x="215.0" y="988.5" text-anchor="end" font-family="TeX Gyre Heros, Liberation Sans, Arial, sans-serif" font-size="68">30</text>
<text x="215.0" y="860.3" text-anchor="end" font-family="TeX Gyre Heros, Liberation Sans, Arial, sans-serif" font-size="68">35</text>
<text x="215.0" y="732.1" text-anchor="end" font-family="TeX Gyre Heros, Liberation Sans, Arial, sans-serif" font-size="68">40</text>
<text x="215.0" y="604.0" text-anchor="end" font-family="TeX Gyre Heros, Liberation Sans, Arial, sans-serif" font-size="68">45</text>
<text x="215.0" y="475.8" text-anchor="end" font-family="TeX Gyre Heros, Liberation Sans, Arial, sans-serif" font-size="68">50</text>
<text x="215.0" y="347.6" text-anchor="end" font-family="TeX Gyre Heros, Liberation Sans, Arial, sans-serif" font-size="68">55</text>
<text x="215.0" y="219.5" text-anchor="end" font-family="TeX Gyre Heros, Liberation Sans, Arial, sans-serif" font-size="68">60</text>
<text x="215.0" y="91.3" text-anchor="end" font-family="TeX Gyre Heros, Liberation Sans, Arial, sans-serif" font-size="68">65</text>
<text x="257.5" y="1447.5" text-anchor="middle" font-family="TeX Gyre Heros, Liberation Sans, Arial, sans-serif" font-size="68">0</text>
<text x="456.6" y="1447.5" text-anchor="middle" font-family="TeX Gyre Heros, Liberation Sans, Arial, sans-serif" font-size="68">2</text>
<text x="655.6" y="1447.5" text-anchor="middle" font-family="TeX Gyre Heros, Liberation Sans, Arial, sans-serif" font-size="68">4</text>
<text x="854.7" y="1447.5" text-anchor="middle" font-family="TeX Gyre Heros, Liberation Sans, Arial, sans-serif" font-size="68">6</text>
<text x="1053.8" y="1447.5" text-anchor="middle" font-family="TeX Gyre Heros, Liberation Sans, Arial, sans-serif" font-size="68">8</text>
<text x="1252.8" y="1447.5" text-anchor="middle" font-family="TeX Gyre Heros, Liberation Sans, Arial, sans-serif" font-size="68">10</text>
<text x="1451.9" y="1447.5" text-anchor="middle" font-family="TeX Gyre Heros, Liberation Sans, Arial, sans-serif" font-size="68">12</text>
<text x="1650.9" y="1447.5" text-anchor="middle" font-family="TeX Gyre Heros, Liberation Sans, Arial, sans-serif" font-size="68">14</text>
<text x="1850.0" y="1447.5" text-anchor="middle" font-family="TeX Gyre Heros, Liberation Sans, Arial, sans-serif" font-size="68">16</text>
<text x="1051.6" y="1544.7" text-anchor="middle" font-family="Liberation Sans, Arial, sans-serif" font-weight="bold" font-size="73">t (min.)</text>
<text transform="translate(85,710) rotate(-90)" x="0" y="0" text-anchor="middle" font-family="Liberation Sans, Arial, sans-serif" font-weight="bold" font-size="73"><tspan font-style="italic">T</tspan> (ºC)</text>
<text x="17" y="99" font-family="Carlito, Calibri, Liberation Sans, sans-serif" font-size="89">(a)</text>
<circle cx="329" cy="144.1" r="15.5" fill="#000000"/>
<circle cx="323" cy="138.1" r="3" fill="#fff" fill-opacity="0.75"/>
<text x="365.4" y="159.3" font-family="Carlito, Calibri, Liberation Sans, sans-serif" font-weight="bold" font-size="57.5" textLength="405.2" lengthAdjust="spacingAndGlyphs">782 kHz at 0.03 T</text>
<text x="775.0" y="159.3" font-family="Carlito, Calibri, Liberation Sans, sans-serif" font-weight="bold" font-size="57.5" textLength="42.4" lengthAdjust="spacingAndGlyphs">–</text>
<text x="824.3" y="159.3" font-family="Carlito, Calibri, Liberation Sans, sans-serif" font-weight="bold" font-size="57.5" textLength="246.58" lengthAdjust="spacingAndGlyphs">CoFe1_OA</text>
<circle cx="329" cy="214.2" r="15.5" fill="#000080"/>
<circle cx="323" cy="208.2" r="3" fill="#fff" fill-opacity="0.75"/>
<text x="365.4" y="231.3" font-family="Carlito, Calibri, Liberation Sans, sans-serif" font-weight="bold" font-size="57.5" textLength="405.2" lengthAdjust="spacingAndGlyphs">782 kHz at 0.03 T</text>
<text x="775.0" y="231.3" font-family="Carlito, Calibri, Liberation Sans, sans-serif" font-weight="bold" font-size="57.5" textLength="42.4" lengthAdjust="spacingAndGlyphs">–</text>
<text x="824.3" y="231.3" font-family="Carlito, Calibri, Liberation Sans, sans-serif" font-weight="bold" font-size="57.5" textLength="246.58" lengthAdjust="spacingAndGlyphs">CoFe2_OA</text>
<circle cx="329" cy="284.7" r="15.5" fill="#ef8229"/>
<circle cx="323" cy="278.7" r="3" fill="#fff" fill-opacity="0.75"/>
<text x="365.4" y="303.9" font-family="Carlito, Calibri, Liberation Sans, sans-serif" font-weight="bold" font-size="57.5" textLength="405.2" lengthAdjust="spacingAndGlyphs">782 kHz at 0.03 T</text>
<text x="775.0" y="303.9" font-family="Carlito, Calibri, Liberation Sans, sans-serif" font-weight="bold" font-size="57.5" textLength="42.4" lengthAdjust="spacingAndGlyphs">–</text>
<text x="824.3" y="303.9" font-family="Carlito, Calibri, Liberation Sans, sans-serif" font-weight="bold" font-size="57.5" textLength="229.59" lengthAdjust="spacingAndGlyphs">CoFe_MA</text>
<circle cx="329" cy="353.8" r="15.5" fill="#c80000"/>
<circle cx="323" cy="347.8" r="3" fill="#fff" fill-opacity="0.75"/>
<text x="365.4" y="376.0" font-family="Carlito, Calibri, Liberation Sans, sans-serif" font-weight="bold" font-size="57.5" textLength="405.2" lengthAdjust="spacingAndGlyphs">782 kHz at 0.03 T</text>
<text x="775.0" y="376.0" font-family="Carlito, Calibri, Liberation Sans, sans-serif" font-weight="bold" font-size="57.5" textLength="42.4" lengthAdjust="spacingAndGlyphs">–</text>
<text x="824.3" y="376.0" font-family="Carlito, Calibri, Liberation Sans, sans-serif" font-weight="bold" font-size="57.5" textLength="208.42" lengthAdjust="spacingAndGlyphs">CoFe_FU</text>
<path d="M302.5,2510.9 L305.7,2513.4 L308.9,2516.0 L312.0,2518.6 L315.0,2521.3 L317.9,2524.0 L320.8,2526.8 L323.7,2529.5 L326.5,2532.4 L329.2,2535.2 L332.0,2538.1 L334.6,2541.0 L337.3,2543.9 L339.9,2546.9 L342.5,2549.9 L345.1,2552.8 L347.7,2555.8 L350.3,2558.9 L352.8,2561.9 L355.4,2564.9 L358.0,2567.9 L360.6,2570.9 L363.2,2573.9 L365.8,2576.9 L368.5,2579.9 L371.1,2582.9 L373.8,2585.9 L376.5,2588.9 L379.2,2591.8 L382.0,2594.8 L384.7,2597.7 L387.5,2600.7 L390.3,2603.6 L393.1,2606.5 L395.9,2609.5 L398.7,2612.4 L401.5,2615.3 L404.3,2618.2 L407.1,2621.1 L409.9,2624.0 L412.7,2626.9 L415.5,2629.8 L418.3,2632.6 L421.1,2635.5 L423.8,2638.4 L426.6,2641.3 L429.4,2644.1 L432.1,2647.0 L434.9,2649.9 L437.7,2652.7 L440.4,2655.6 L443.2,2658.4 L445.9,2661.3 L448.7,2664.2 L451.4,2667.0 L454.1,2669.9 L456.9,2672.7 L459.7,2675.6 L462.4,2678.4 L465.2,2681.3 L467.9,2684.1 L470.7,2687.0 L473.5,2689.8 L476.3,2692.7 L479.1,2695.6 L481.9,2698.4 L484.7,2701.3 L487.5,2704.1 L490.3,2706.9 L493.2,2709.7 L496.0,2712.5 L498.9,2715.3 L501.8,2718.1 L504.7,2720.9 L507.6,2723.6 L510.5,2726.4 L513.4,2729.1 L516.3,2731.8 L519.3,2734.5 L522.3,2737.2 L525.3,2739.8 L528.3,2742.5 L531.3,2745.1 L534.3,2747.8 L537.4,2750.4 L540.4,2753.0 L543.5,2755.6 L546.6,2758.1 L549.7,2760.7 L552.8,2763.2 L556.0,2765.8 L559.1,2768.3 L562.3,2770.7 L565.5,2773.2 L568.6,2775.7 L571.9,2778.1 L575.1,2780.5 L578.3,2782.9 L581.6,2785.3 L584.8,2787.7 L588.1,2790.0 L591.4,2792.4 L594.7,2794.7 L598.0,2796.9 L601.3,2799.2 L604.7,2801.5 L608.0,2803.7 L611.4,2805.9 L614.8,2808.1 L618.2,2810.2 L621.6,2812.3 L625.0,2814.4 L628.4,2816.5 L631.9,2818.6 L635.3,2820.6 L638.8,2822.6 L642.3,2824.6 L645.8,2826.6 L649.3,2828.5 L652.8,2830.4 L656.3,2832.3 L659.8,2834.2 L663.4,2836.0 L666.9,2837.8 L670.5,2839.6 L674.1,2841.3 L677.6,2843.1 L681.2,2844.8 L684.8,2846.4 L688.5,2848.1 L692.1,2849.7 L695.7,2851.2 L699.4,2852.8 L703.0,2854.3 L706.7,2855.8 L710.4,2857.2 L714.0,2858.7 L717.7,2860.1 L721.4,2861.5 L725.1,2862.8 L728.9,2864.1 L732.6,2865.5 L736.3,2866.7 L740.1,2868.0 L743.8,2869.2 L747.6,2870.4 L751.3,2871.6 L755.1,2872.8 L758.9,2874.0 L762.7,2875.1 L766.5,2876.2 L770.3,2877.3 L774.1,2878.3 L777.9,2879.4 L781.7,2880.4 L785.6,2881.4 L789.4,2882.4 L793.2,2883.4 L797.1,2884.4 L801.0,2885.3 L804.8,2886.3 L808.7,2887.2 L812.6,2888.1 L816.5,2889.0 L820.3,2889.9 L824.2,2890.7 L828.1,2891.6 L832.0,2892.4 L835.9,2893.2 L839.9,2894.1 L843.8,2894.9 L847.7,2895.7 L851.6,2896.4 L855.6,2897.2 L859.5,2898.0 L863.5,2898.8 L867.4,2899.5 L871.4,2900.3 L875.3,2901.0 L879.3,2901.7 L883.2,2902.5 L887.2,2903.2 L891.2,2903.9 L895.2,2904.6 L899.1,2905.3 L903.1,2906.1 L907.1,2906.8 L911.1,2907.5 L915.1,2908.2 L919.1,2908.8 L923.1,2909.5 L927.1,2910.2 L931.1,2910.9 L935.1,2911.6 L939.1,2912.2 L943.1,2912.9 L947.1,2913.6 L951.1,2914.2 L955.1,2914.9 L959.1,2915.6 L963.1,2916.2 L967.2,2916.9 L971.2,2917.5 L975.2,2918.2 L979.2,2918.8 L983.2,2919.4 L987.3,2920.1 L991.3,2920.7 L995.3,2921.3 L999.3,2922.0 L1003.3,2922.6 L1007.4,2923.2 L1011.4,2923.9 L1015.4,2924.5 L1019.4,2925.1 L1023.5,2925.7 L1027.5,2926.4 L1031.5,2927.0 L1035.5,2927.6 L1039.5,2928.2 L1043.6,2928.8 L1047.6,2929.4 L1051.6,2930.1 L1055.6,2930.7 L1059.6,2931.3 L1063.6,2931.9 L1067.6,2932.5 L1071.7,2933.1 L1075.7,2933.7 L1079.7,2934.3 L1083.7,2935.0 L1087.7,2935.6 L1091.7,2936.2 L1095.7,2936.8 L1099.7,2937.4 L1103.6,2938.0 L1107.6,2938.6 L1111.6,2939.2 L1115.6,2939.9 L1119.6,2940.5 L1123.5,2941.1 L1127.5,2941.7 L1131.5,2942.3 L1135.4,2942.9 L1139.4,2943.6 L1143.4,2944.2 L1147.3,2944.8 L1151.3,2945.4 L1155.2,2946.1 L1159.1,2946.7 L1163.1,2947.3 L1167.0,2948.0 L1170.9,2948.6 L1174.8,2949.2 L1178.8,2949.9 L1182.7,2950.5 L1186.6,2951.2 L1190.5,2951.8 L1194.4,2952.5 L1198.2,2953.1 L1202.1,2953.8 L1206.0,2954.4 L1209.9,2955.1 L1213.7,2955.8 L1217.6,2956.4 L1221.4,2957.1 L1225.3,2957.8 L1229.1,2958.4 L1232.9,2959.1 L1236.8,2959.8 L1240.6,2960.5 L1244.4,2961.2" fill="none" stroke="#000000" stroke-width="8.5" stroke-linecap="round" stroke-linejoin="round" clip-path="url(#cb)"/>
<path d="M284.9,2271.6 L286.4,2275.3 L287.8,2279.1 L289.3,2282.8 L290.8,2286.5 L292.4,2290.2 L293.9,2293.9 L295.5,2297.6 L297.0,2301.3 L298.6,2304.9 L300.2,2308.6 L301.8,2312.3 L303.5,2315.9 L305.1,2319.6 L306.8,2323.3 L308.4,2326.9 L310.1,2330.5 L311.8,2334.2 L313.5,2337.8 L315.2,2341.4 L317.0,2345.0 L318.7,2348.7 L320.4,2352.3 L322.2,2355.9 L324.0,2359.5 L325.7,2363.0 L327.5,2366.6 L329.3,2370.2 L331.1,2373.8 L332.9,2377.4 L334.7,2380.9 L336.6,2384.5 L338.4,2388.0 L340.2,2391.6 L342.1,2395.1 L343.9,2398.7 L345.8,2402.2 L347.6,2405.8 L349.5,2409.3 L351.4,2412.8 L353.3,2416.3 L355.1,2419.8 L357.0,2423.4 L358.9,2426.9 L360.8,2430.4 L362.8,2433.9 L364.7,2437.4 L366.6,2440.9 L368.6,2444.3 L370.5,2447.8 L372.5,2451.3 L374.4,2454.8 L376.4,2458.3 L378.4,2461.7 L380.3,2465.2 L382.3,2468.7 L384.3,2472.1 L386.3,2475.6 L388.4,2479.0 L390.4,2482.5 L392.4,2485.9 L394.5,2489.4 L396.5,2492.8 L398.6,2496.2 L400.6,2499.7 L402.7,2503.1 L404.8,2506.5 L406.9,2510.0 L409.0,2513.4 L411.1,2516.8 L413.2,2520.2 L415.4,2523.6 L417.5,2527.0 L419.7,2530.4 L421.8,2533.8 L424.0,2537.2 L426.2,2540.6 L428.4,2544.0 L430.6,2547.3 L432.8,2550.7 L435.1,2554.0 L437.3,2557.3 L439.6,2560.7 L441.9,2564.0 L444.2,2567.3 L446.5,2570.6 L448.8,2573.8 L451.2,2577.1 L453.5,2580.4 L455.9,2583.6 L458.3,2586.8 L460.7,2590.0 L463.1,2593.2 L465.6,2596.4 L468.1,2599.5 L470.5,2602.7 L473.0,2605.8 L475.6,2608.9 L478.1,2612.0 L480.7,2615.0 L483.2,2618.1 L485.8,2621.1 L488.5,2624.1 L491.1,2627.1 L493.8,2630.1 L496.5,2633.0 L499.2,2635.9 L501.9,2638.8 L504.7,2641.6 L507.5,2644.5 L510.3,2647.3 L513.1,2650.0 L516.0,2652.8 L518.9,2655.5 L521.8,2658.1 L524.7,2660.8 L527.7,2663.4 L530.7,2666.0 L533.7,2668.5 L536.8,2671.0 L539.9,2673.4 L543.0,2675.9 L546.2,2678.2 L549.4,2680.6 L552.6,2682.9 L555.9,2685.1 L559.2,2687.3 L562.5,2689.5 L565.9,2691.6 L569.3,2693.7 L572.7,2695.8 L576.1,2697.8 L579.6,2699.7 L583.1,2701.7 L586.6,2703.6 L590.2,2705.4 L593.8,2707.2 L597.4,2709.0 L601.0,2710.7 L604.7,2712.4 L608.3,2714.1 L612.0,2715.7 L615.8,2717.3 L619.5,2718.8 L623.3,2720.4 L627.0,2721.8 L630.8,2723.3 L634.7,2724.7 L638.5,2726.1 L642.3,2727.4 L646.2,2728.8 L650.0,2730.1 L653.9,2731.3 L657.8,2732.6 L661.6,2733.8 L665.5,2735.0 L669.4,2736.1 L673.3,2737.3 L677.2,2738.4 L681.1,2739.5 L685.0,2740.6 L688.9,2741.7 L692.8,2742.7 L696.7,2743.7 L700.6,2744.8 L704.5,2745.7 L708.4,2746.7 L712.3,2747.7 L716.2,2748.6 L720.1,2749.5 L724.0,2750.4 L727.9,2751.3 L731.8,2752.1 L735.7,2753.0 L739.7,2753.8 L743.6,2754.6 L747.5,2755.4 L751.4,2756.2 L755.3,2757.0 L759.2,2757.7 L763.2,2758.4 L767.1,2759.2 L771.0,2759.9 L774.9,2760.6 L778.8,2761.3 L782.8,2761.9 L786.7,2762.6 L790.6,2763.2 L794.5,2763.9 L798.5,2764.5 L802.4,2765.1 L806.3,2765.7 L810.3,2766.3 L814.2,2766.9 L818.1,2767.5 L822.1,2768.0 L826.0,2768.6 L830.0,2769.1 L833.9,2769.7 L837.8,2770.2 L841.8,2770.7 L845.7,2771.2 L849.7,2771.7 L853.6,2772.3 L857.5,2772.7 L861.5,2773.2 L865.4,2773.7 L869.4,2774.2 L873.3,2774.7 L877.3,2775.1 L881.2,2775.6 L885.2,2776.1 L889.1,2776.5 L893.1,2777.0 L897.0,2777.4 L901.0,2777.9 L904.9,2778.3 L908.9,2778.8 L912.9,2779.2 L916.8,2779.7 L920.8,2780.1 L924.7,2780.6 L928.7,2781.0 L932.7,2781.4 L936.6,2781.9 L940.6,2782.3 L944.5,2782.8 L948.5,2783.2 L952.5,2783.6 L956.4,2784.1 L960.4,2784.5 L964.4,2785.0 L968.3,2785.5 L972.3,2785.9 L976.3,2786.4 L980.2,2786.8 L984.2,2787.3 L988.2,2787.8 L992.2,2788.3 L996.1,2788.8 L1000.1,2789.3 L1004.1,2789.7 L1008.0,2790.2 L1012.0,2790.7 L1016.0,2791.2 L1020.0,2791.8 L1023.9,2792.3 L1027.9,2792.8 L1031.9,2793.3 L1035.9,2793.8 L1039.9,2794.3 L1043.8,2794.9 L1047.8,2795.4 L1051.8,2795.9 L1055.8,2796.5 L1059.8,2797.0 L1063.7,2797.5 L1067.7,2798.1 L1071.7,2798.6 L1075.7,2799.1 L1079.7,2799.7 L1083.7,2800.2 L1087.6,2800.8 L1091.6,2801.3 L1095.6,2801.9 L1099.6,2802.4 L1103.6,2803.0 L1107.6,2803.5 L1111.5,2804.1 L1115.5,2804.6 L1119.5,2805.1 L1123.5,2805.7 L1127.5,2806.2 L1131.5,2806.8 L1135.5,2807.3 L1139.5,2807.9 L1143.5,2808.4 L1147.4,2809.0 L1151.4,2809.5 L1155.4,2810.0 L1159.4,2810.6 L1163.4,2811.1 L1167.4,2811.6 L1171.4,2812.2 L1175.4,2812.7 L1179.4,2813.2 L1183.4,2813.7 L1187.3,2814.3 L1191.3,2814.8 L1195.3,2815.3 L1199.3,2815.8 L1203.3,2816.3 L1207.3,2816.8 L1211.3,2817.3 L1215.3,2817.8 L1219.3,2818.3 L1223.3,2818.8 L1227.3,2819.3 L1231.3,2819.8 L1235.3,2820.3 L1239.3,2820.8 L1243.2,2821.3 L1247.2,2821.8 L1251.2,2822.3 L1255.2,2822.8 L1259.2,2823.2 L1263.2,2823.7 L1267.2,2824.2 L1271.2,2824.7 L1275.2,2825.2 L1279.2,2825.6 L1283.2,2826.1 L1287.2,2826.6 L1291.2,2827.0 L1295.2,2827.5 L1299.2,2828.0 L1303.2,2828.5 L1307.2,2828.9 L1311.1,2829.4 L1315.1,2829.8 L1319.1,2830.3 L1323.1,2830.8 L1327.1,2831.2 L1331.1,2831.7 L1335.1,2832.1 L1339.1,2832.6 L1343.1,2833.1 L1347.1,2833.5 L1351.1,2834.0 L1355.1,2834.4 L1359.1,2834.9 L1363.1,2835.3 L1367.0,2835.8 L1371.0,2836.2 L1375.0,2836.7 L1379.0,2837.1 L1383.0,2837.6 L1387.0,2838.0 L1391.0,2838.5 L1395.0,2838.9 L1399.0,2839.4 L1403.0,2839.8 L1406.9,2840.3 L1410.9,2840.7 L1414.9,2841.2 L1418.9,2841.6 L1422.9,2842.1 L1426.9,2842.5 L1430.9,2843.0 L1434.9,2843.4 L1438.9,2843.9 L1442.8,2844.3 L1446.8,2844.8 L1450.8,2845.2 L1454.8,2845.7 L1458.8,2846.1 L1462.8,2846.6 L1466.7,2847.0 L1470.7,2847.5 L1474.7,2847.9 L1478.7,2848.4 L1482.7,2848.8 L1486.7,2849.3 L1490.6,2849.8 L1494.6,2850.2 L1498.6,2850.7 L1502.6,2851.1 L1506.6,2851.6 L1510.5,2852.0 L1514.5,2852.5 L1518.5,2853.0 L1522.5,2853.4 L1526.5,2853.9 L1530.4,2854.4 L1534.4,2854.8 L1538.4,2855.3 L1542.4,2855.8 L1546.3,2856.2 L1550.3,2856.7 L1554.3,2857.2 L1558.2,2857.6 L1562.2,2858.1 L1566.2,2858.6 L1570.2,2859.1 L1574.1,2859.6 L1578.1,2860.0 L1582.1,2860.5 L1586.0,2861.0 L1590.0,2861.5 L1594.0,2862.0 L1597.9,2862.5 L1601.9,2863.0 L1605.9,2863.5 L1609.8,2864.0 L1613.8,2864.5 L1617.7,2865.0 L1621.7,2865.5 L1625.7,2866.0 L1629.6,2866.5 L1633.6,2867.0 L1637.5,2867.5 L1641.5,2868.0 L1645.4,2868.5 L1649.4,2869.1 L1653.4,2869.6 L1657.3,2870.1 L1661.3,2870.6 L1665.2,2871.2 L1669.2,2871.7 L1673.1,2872.2 L1677.1,2872.8 L1681.0,2873.3 L1685.0,2873.8 L1688.9,2874.4 L1692.8,2874.9 L1696.8,2875.5 L1700.7,2876.1 L1704.7,2876.6 L1708.6,2877.2 L1712.6,2877.7 L1716.5,2878.3" fill="none" stroke="#000080" stroke-width="8.5" stroke-linecap="round" stroke-linejoin="round" clip-path="url(#cb)"/>
<path d="M285.0,2519.6 L285.8,2523.7 L286.7,2527.7 L287.6,2531.7 L288.5,2535.8 L289.4,2539.8 L290.3,2543.8 L291.3,2547.7 L292.2,2551.7 L293.2,2555.7 L294.3,2559.6 L295.3,2563.5 L296.4,2567.4 L297.5,2571.3 L298.6,2575.2 L299.7,2579.0 L300.9,2582.8 L302.1,2586.7 L303.4,2590.5 L304.6,2594.2 L305.9,2598.0 L307.2,2601.8 L308.6,2605.5 L310.0,2609.2 L311.4,2612.9 L312.8,2616.6 L314.3,2620.2 L315.8,2623.9 L317.4,2627.5 L319.0,2631.1 L320.6,2634.7 L322.3,2638.3 L324.0,2641.8 L325.7,2645.4 L327.5,2648.9 L329.3,2652.4 L331.1,2655.8 L333.0,2659.3 L335.0,2662.7 L336.9,2666.1 L338.9,2669.5 L341.0,2672.9 L343.0,2676.2 L345.2,2679.5 L347.3,2682.8 L349.5,2686.1 L351.7,2689.4 L354.0,2692.6 L356.2,2695.8 L358.6,2699.0 L360.9,2702.2 L363.3,2705.4 L365.7,2708.5 L368.2,2711.6 L370.7,2714.7 L373.2,2717.7 L375.7,2720.8 L378.3,2723.8 L380.9,2726.8 L383.5,2729.7 L386.2,2732.7 L388.9,2735.6 L391.6,2738.5 L394.4,2741.3 L397.2,2744.2 L400.0,2747.0 L402.8,2749.8 L405.7,2752.6 L408.5,2755.4 L411.4,2758.1 L414.4,2760.9 L417.3,2763.6 L420.3,2766.3 L423.3,2769.0 L426.3,2771.6 L429.3,2774.3 L432.3,2776.9 L435.4,2779.5 L438.5,2782.1 L441.6,2784.7 L444.7,2787.3 L447.8,2789.9 L450.9,2792.4 L454.1,2795.0 L457.2,2797.5 L460.4,2800.0 L463.6,2802.5 L466.7,2805.0 L469.9,2807.5 L473.1,2810.0 L476.3,2812.5 L479.6,2815.0 L482.8,2817.5 L486.0,2819.9 L489.2,2822.4 L492.5,2824.9 L495.7,2827.3 L498.9,2829.8 L502.1,2832.2 L505.4,2834.7 L508.6,2837.1 L511.8,2839.6 L515.1,2842.0 L518.3,2844.5 L521.5,2846.9 L524.7,2849.4 L527.9,2851.8 L531.1,2854.3 L534.3,2856.8 L537.5,2859.2 L540.7,2861.7 L543.9,2864.2 L547.0,2866.7 L550.2,2869.2 L553.3,2871.7 L556.4,2874.2 L559.6,2876.7 L562.7,2879.2 L565.7,2881.7 L568.8,2884.3 L571.9,2886.8 L574.9,2889.4 L577.9,2892.0 L580.9,2894.5 L583.9,2897.2 L586.8,2899.8 L589.8,2902.4 L592.7,2905.0 L595.6,2907.7 L598.4,2910.4 L601.3,2913.1 L604.1,2915.8 L606.9,2918.5" fill="none" stroke="#ef8229" stroke-width="8.5" stroke-linecap="round" stroke-linejoin="round" clip-path="url(#cb)"/>
<path d="M289.0,1774.0 L289.4,1777.9 L289.8,1781.9 L290.2,1785.8 L290.6,1789.8 L291.0,1793.7 L291.4,1797.7 L291.8,1801.6 L292.3,1805.6 L292.7,1809.5 L293.1,1813.5 L293.6,1817.4 L294.0,1821.4 L294.5,1825.3 L295.0,1829.3 L295.4,1833.2 L295.9,1837.2 L296.4,1841.1 L296.9,1845.1 L297.4,1849.0 L297.9,1853.0 L298.4,1857.0 L298.9,1860.9 L299.4,1864.9 L299.9,1868.8 L300.5,1872.8 L301.0,1876.8 L301.5,1880.7 L302.1,1884.7 L302.6,1888.6 L303.2,1892.6 L303.8,1896.6 L304.3,1900.5 L304.9,1904.5 L305.5,1908.5 L306.0,1912.4 L306.6,1916.4 L307.2,1920.3 L307.8,1924.3 L308.4,1928.3 L309.0,1932.2 L309.6,1936.2 L310.2,1940.2 L310.8,1944.1 L311.4,1948.1 L312.0,1952.1 L312.7,1956.0 L313.3,1960.0 L313.9,1964.0 L314.6,1967.9 L315.2,1971.9 L315.8,1975.9 L316.5,1979.8 L317.1,1983.8 L317.8,1987.8 L318.5,1991.8 L319.1,1995.7 L319.8,1999.7 L320.4,2003.7 L321.1,2007.6 L321.8,2011.6 L322.5,2015.6 L323.1,2019.5 L323.8,2023.5 L324.5,2027.5 L325.2,2031.4 L325.9,2035.4 L326.6,2039.4 L327.3,2043.4 L328.0,2047.3 L328.7,2051.3 L329.4,2055.3 L330.1,2059.2 L330.8,2063.2 L331.5,2067.2 L332.2,2071.1 L332.9,2075.1 L333.6,2079.1 L334.4,2083.0 L335.1,2087.0 L335.8,2091.0 L336.5,2094.9 L337.2,2098.9 L338.0,2102.9 L338.7,2106.8 L339.4,2110.8 L340.2,2114.8 L340.9,2118.7 L341.6,2122.7 L342.4,2126.7 L343.1,2130.6 L343.8,2134.6 L344.6,2138.6 L345.3,2142.5 L346.0,2146.5 L346.8,2150.4 L347.5,2154.4 L348.3,2158.4 L349.0,2162.3 L349.8,2166.3 L350.5,2170.2 L351.2,2174.2 L352.0,2178.2 L352.7,2182.1 L353.5,2186.1 L354.2,2190.0 L355.0,2194.0 L355.7,2197.9 L356.5,2201.9 L357.2,2205.9 L358.0,2209.8 L358.7,2213.8 L359.4,2217.7 L360.2,2221.7 L360.9,2225.6 L361.7,2229.6 L362.4,2233.5 L363.2,2237.5 L363.9,2241.4 L364.6,2245.4 L365.4,2249.3 L366.1,2253.3 L366.9,2257.2 L367.6,2261.1 L368.3,2265.1 L369.1,2269.0 L369.8,2273.0 L370.6,2276.9 L371.3,2280.8 L372.0,2284.8 L372.8,2288.7 L373.5,2292.7 L374.3,2296.6 L375.0,2300.5 L375.7,2304.5 L376.5,2308.4 L377.2,2312.3 L378.0,2316.3 L378.7,2320.2 L379.5,2324.1 L380.3,2328.0 L381.0,2332.0 L381.8,2335.9 L382.5,2339.8 L383.3,2343.7 L384.1,2347.7 L384.8,2351.6 L385.6,2355.5 L386.4,2359.4 L387.2,2363.3 L388.0,2367.3 L388.8,2371.2 L389.6,2375.1 L390.4,2379.0 L391.2,2382.9 L392.0,2386.8 L392.8,2390.7 L393.6,2394.6 L394.4,2398.5 L395.3,2402.4 L396.1,2406.3 L397.0,2410.3 L397.8,2414.2 L398.7,2418.1 L399.5,2421.9 L400.4,2425.8 L401.3,2429.7 L402.2,2433.6 L403.0,2437.5 L403.9,2441.4 L404.9,2445.3 L405.8,2449.2 L406.7,2453.1 L407.6,2457.0 L408.5,2460.8 L409.5,2464.7 L410.4,2468.6 L411.4,2472.5 L412.4,2476.4 L413.4,2480.2 L414.3,2484.1 L415.3,2488.0 L416.3,2491.8 L417.4,2495.7 L418.4,2499.6 L419.4,2503.4 L420.5,2507.3 L421.5,2511.2 L422.6,2515.0 L423.7,2518.9 L424.8,2522.7 L425.9,2526.6 L427.0,2530.4 L428.1,2534.3 L429.2,2538.1 L430.4,2542.0 L431.6,2545.8 L432.7,2549.6 L433.9,2553.4 L435.1,2557.3 L436.4,2561.1 L437.6,2564.9 L438.9,2568.7 L440.2,2572.4 L441.5,2576.2 L442.8,2580.0 L444.1,2583.8 L445.4,2587.5 L446.8,2591.3 L448.2,2595.0 L449.6,2598.7 L451.0,2602.4 L452.5,2606.1 L454.0,2609.8 L455.5,2613.5 L457.0,2617.2 L458.5,2620.8 L460.1,2624.5 L461.7,2628.1 L463.3,2631.7 L464.9,2635.3 L466.6,2638.9 L468.3,2642.5 L470.0,2646.1 L471.7,2649.6 L473.5,2653.1 L475.3,2656.7 L477.1,2660.2 L478.9,2663.7 L480.8,2667.1 L482.7,2670.6 L484.6,2674.0 L486.6,2677.5 L488.6,2680.9 L490.6,2684.3 L492.7,2687.7 L494.8,2691.1 L496.9,2694.4 L499.0,2697.8 L501.2,2701.1 L503.4,2704.4 L505.7,2707.7 L508.0,2711.0 L510.3,2714.3 L512.7,2717.5 L515.1,2720.7 L517.5,2724.0 L519.9,2727.2 L522.4,2730.4 L525.0,2733.5 L527.5,2736.7 L530.1,2739.8 L532.7,2743.0 L535.3,2746.1 L538.0,2749.2 L540.7,2752.3 L543.4,2755.4 L546.1,2758.4 L548.8,2761.5 L551.6,2764.5 L554.4,2767.6 L557.2,2770.6 L560.0,2773.6 L562.8,2776.6 L565.6,2779.6 L568.5,2782.6 L571.3,2785.6 L574.2,2788.5 L577.0,2791.5 L579.9,2794.4 L582.8,2797.4 L585.6,2800.3 L588.5,2803.2 L591.4,2806.1 L594.2,2809.0 L597.1,2811.9 L599.9,2814.8 L602.8,2817.7 L605.6,2820.6 L608.4,2823.5 L611.3,2826.3 L614.1,2829.2 L616.9,2832.1 L619.6,2834.9 L622.4,2837.8 L625.2,2840.6 L628.0,2843.5 L630.7,2846.3 L633.5,2849.2 L636.2,2852.0 L638.9,2854.9 L641.7,2857.7 L644.4,2860.5 L647.1,2863.4 L649.9,2866.2 L652.6,2869.0 L655.3,2871.8 L658.0,2874.7 L660.7,2877.5 L663.5,2880.3 L666.2,2883.2 L668.9,2886.0 L671.6,2888.8 L674.4,2891.7 L677.1,2894.5 L679.8,2897.4 L682.6,2900.2 L685.3,2903.1 L688.1,2905.9 L690.8,2908.8 L693.6,2911.6 L696.4,2914.5 L699.2,2917.4 L702.0,2920.2 L704.8,2923.1 L707.6,2926.0 L710.4,2928.9 L713.2,2931.8 L716.1,2934.7" fill="none" stroke="#c80000" stroke-width="9.5" stroke-linecap="round" stroke-linejoin="round" clip-path="url(#cb)"/>
<line x1="260.0" y1="2975.5" x2="284.0" y2="2975.5" stroke="#000" stroke-width="5"/>
<line x1="1857.4" y1="2975.5" x2="1831.4" y2="2975.5" stroke="#000" stroke-width="5"/>
<line x1="272.0" y1="2889.0" x2="284.0" y2="2889.0" stroke="#000" stroke-width="5"/>
<line x1="1857.4" y1="2889.0" x2="1843.9" y2="2889.0" stroke="#000" stroke-width="5"/>
<line x1="260.0" y1="2802.5" x2="284.0" y2="2802.5" stroke="#000" stroke-width="5"/>
<line x1="1857.4" y1="2802.5" x2="1831.4" y2="2802.5" stroke="#000" stroke-width="5"/>
<line x1="272.0" y1="2716.0" x2="284.0" y2="2716.0" stroke="#000" stroke-width="5"/>
<line x1="1857.4" y1="2716.0" x2="1843.9" y2="2716.0" stroke="#000" stroke-width="5"/>
<line x1="260.0" y1="2629.5" x2="284.0" y2="2629.5" stroke="#000" stroke-width="5"/>
<line x1="1857.4" y1="2629.5" x2="1831.4" y2="2629.5" stroke="#000" stroke-width="5"/>
<line x1="272.0" y1="2543.0" x2="284.0" y2="2543.0" stroke="#000" stroke-width="5"/>
<line x1="1857.4" y1="2543.0" x2="1843.9" y2="2543.0" stroke="#000" stroke-width="5"/>
<line x1="260.0" y1="2456.5" x2="284.0" y2="2456.5" stroke="#000" stroke-width="5"/>
<line x1="1857.4" y1="2456.5" x2="1831.4" y2="2456.5" stroke="#000" stroke-width="5"/>
<line x1="272.0" y1="2369.9" x2="284.0" y2="2369.9" stroke="#000" stroke-width="5"/>
<line x1="1857.4" y1="2369.9" x2="1843.9" y2="2369.9" stroke="#000" stroke-width="5"/>
<line x1="260.0" y1="2283.4" x2="284.0" y2="2283.4" stroke="#000" stroke-width="5"/>
<line x1="1857.4" y1="2283.4" x2="1831.4" y2="2283.4" stroke="#000" stroke-width="5"/>
<line x1="272.0" y1="2196.9" x2="284.0" y2="2196.9" stroke="#000" stroke-width="5"/>
<line x1="1857.4" y1="2196.9" x2="1843.9" y2="2196.9" stroke="#000" stroke-width="5"/>
<line x1="260.0" y1="2110.4" x2="284.0" y2="2110.4" stroke="#000" stroke-width="5"/>
<line x1="1857.4" y1="2110.4" x2="1831.4" y2="2110.4" stroke="#000" stroke-width="5"/>
<line x1="272.0" y1="2023.9" x2="284.0" y2="2023.9" stroke="#000" stroke-width="5"/>
<line x1="1857.4" y1="2023.9" x2="1843.9" y2="2023.9" stroke="#000" stroke-width="5"/>
<line x1="260.0" y1="1937.4" x2="284.0" y2="1937.4" stroke="#000" stroke-width="5"/>
<line x1="1857.4" y1="1937.4" x2="1831.4" y2="1937.4" stroke="#000" stroke-width="5"/>
<line x1="272.0" y1="1850.9" x2="284.0" y2="1850.9" stroke="#000" stroke-width="5"/>
<line x1="1857.4" y1="1850.9" x2="1843.9" y2="1850.9" stroke="#000" stroke-width="5"/>
<line x1="260.0" y1="1764.4" x2="284.0" y2="1764.4" stroke="#000" stroke-width="5"/>
<line x1="1857.4" y1="1764.4" x2="1831.4" y2="1764.4" stroke="#000" stroke-width="5"/>
<line x1="284.0" y1="2975.5" x2="284.0" y2="2997.5" stroke="#000" stroke-width="5"/>
<line x1="284.0" y1="1706.7" x2="284.0" y2="1730.7" stroke="#000" stroke-width="5"/>
<line x1="371.4" y1="2975.5" x2="371.4" y2="2985.0" stroke="#000" stroke-width="5"/>
<line x1="371.4" y1="1706.7" x2="371.4" y2="1718.7" stroke="#000" stroke-width="5"/>
<line x1="458.8" y1="2975.5" x2="458.8" y2="2997.5" stroke="#000" stroke-width="5"/>
<line x1="458.8" y1="1706.7" x2="458.8" y2="1730.7" stroke="#000" stroke-width="5"/>
<line x1="546.2" y1="2975.5" x2="546.2" y2="2985.0" stroke="#000" stroke-width="5"/>
<line x1="546.2" y1="1706.7" x2="546.2" y2="1718.7" stroke="#000" stroke-width="5"/>
<line x1="633.6" y1="2975.5" x2="633.6" y2="2997.5" stroke="#000" stroke-width="5"/>
<line x1="633.6" y1="1706.7" x2="633.6" y2="1730.7" stroke="#000" stroke-width="5"/>
<line x1="721.1" y1="2975.5" x2="721.1" y2="2985.0" stroke="#000" stroke-width="5"/>
<line x1="721.1" y1="1706.7" x2="721.1" y2="1718.7" stroke="#000" stroke-width="5"/>
<line x1="808.5" y1="2975.5" x2="808.5" y2="2997.5" stroke="#000" stroke-width="5"/>
<line x1="808.5" y1="1706.7" x2="808.5" y2="1730.7" stroke="#000" stroke-width="5"/>
<line x1="895.9" y1="2975.5" x2="895.9" y2="2985.0" stroke="#000" stroke-width="5"/>
<line x1="895.9" y1="1706.7" x2="895.9" y2="1718.7" stroke="#000" stroke-width="5"/>
<line x1="983.3" y1="2975.5" x2="983.3" y2="2997.5" stroke="#000" stroke-width="5"/>
<line x1="983.3" y1="1706.7" x2="983.3" y2="1730.7" stroke="#000" stroke-width="5"/>
<line x1="1070.7" y1="2975.5" x2="1070.7" y2="2985.0" stroke="#000" stroke-width="5"/>
<line x1="1070.7" y1="1706.7" x2="1070.7" y2="1718.7" stroke="#000" stroke-width="5"/>
<line x1="1158.1" y1="2975.5" x2="1158.1" y2="2997.5" stroke="#000" stroke-width="5"/>
<line x1="1158.1" y1="1706.7" x2="1158.1" y2="1730.7" stroke="#000" stroke-width="5"/>
<line x1="1245.5" y1="2975.5" x2="1245.5" y2="2985.0" stroke="#000" stroke-width="5"/>
<line x1="1245.5" y1="1706.7" x2="1245.5" y2="1718.7" stroke="#000" stroke-width="5"/>
<line x1="1332.9" y1="2975.5" x2="1332.9" y2="2997.5" stroke="#000" stroke-width="5"/>
<line x1="1332.9" y1="1706.7" x2="1332.9" y2="1730.7" stroke="#000" stroke-width="5"/>
<line x1="1420.3" y1="2975.5" x2="1420.3" y2="2985.0" stroke="#000" stroke-width="5"/>
<line x1="1420.3" y1="1706.7" x2="1420.3" y2="1718.7" stroke="#000" stroke-width="5"/>
<line x1="1507.8" y1="2975.5" x2="1507.8" y2="2997.5" stroke="#000" stroke-width="5"/>
<line x1="1507.8" y1="1706.7" x2="1507.8" y2="1730.7" stroke="#000" stroke-width="5"/>
<line x1="1595.2" y1="2975.5" x2="1595.2" y2="2985.0" stroke="#000" stroke-width="5"/>
<line x1="1595.2" y1="1706.7" x2="1595.2" y2="1718.7" stroke="#000" stroke-width="5"/>
<line x1="1682.6" y1="2975.5" x2="1682.6" y2="2997.5" stroke="#000" stroke-width="5"/>
<line x1="1682.6" y1="1706.7" x2="1682.6" y2="1730.7" stroke="#000" stroke-width="5"/>
<line x1="1770.0" y1="2975.5" x2="1770.0" y2="2985.0" stroke="#000" stroke-width="5"/>
<line x1="1770.0" y1="1706.7" x2="1770.0" y2="1718.7" stroke="#000" stroke-width="5"/>
<line x1="1857.4" y1="2975.5" x2="1857.4" y2="2997.5" stroke="#000" stroke-width="5"/>
<line x1="1857.4" y1="1706.7" x2="1857.4" y2="1730.7" stroke="#000" stroke-width="5"/>
<rect x="284.0" y="1706.7" width="1573.4" height="1268.8" fill="none" stroke="#000" stroke-width="5" stroke-linejoin="miter"/>
<text x="242.5" y="2993.8" text-anchor="end" font-family="TeX Gyre Heros, Liberation Sans, Arial, sans-serif" font-size="68">0</text>
<text x="242.5" y="2820.8" text-anchor="end" font-family="TeX Gyre Heros, Liberation Sans, Arial, sans-serif" font-size="68">15</text>
<text x="242.5" y="2647.8" text-anchor="end" font-family="TeX Gyre Heros, Liberation Sans, Arial, sans-serif" font-size="68">30</text>
<text x="242.5" y="2474.8" text-anchor="end" font-family="TeX Gyre Heros, Liberation Sans, Arial, sans-serif" font-size="68">45</text>
<text x="242.5" y="2301.7" text-anchor="end" font-family="TeX Gyre Heros, Liberation Sans, Arial, sans-serif" font-size="68">60</text>
<text x="242.5" y="2128.7" text-anchor="end" font-family="TeX Gyre Heros, Liberation Sans, Arial, sans-serif" font-size="68">75</text>
<text x="242.5" y="1955.7" text-anchor="end" font-family="TeX Gyre Heros, Liberation Sans, Arial, sans-serif" font-size="68">90</text>
<text x="242.5" y="1782.7" text-anchor="end" font-family="TeX Gyre Heros, Liberation Sans, Arial, sans-serif" font-size="68">105</text>
<text x="284.0" y="3067" text-anchor="middle" font-family="TeX Gyre Heros, Liberation Sans, Arial, sans-serif" font-size="68">20</text>
<text x="458.8" y="3067" text-anchor="middle" font-family="TeX Gyre Heros, Liberation Sans, Arial, sans-serif" font-size="68">25</text>
<text x="633.6" y="3067" text-anchor="middle" font-family="TeX Gyre Heros, Liberation Sans, Arial, sans-serif" font-size="68">30</text>
<text x="808.5" y="3067" text-anchor="middle" font-family="TeX Gyre Heros, Liberation Sans, Arial, sans-serif" font-size="68">35</text>
<text x="983.3" y="3067" text-anchor="middle" font-family="TeX Gyre Heros, Liberation Sans, Arial, sans-serif" font-size="68">40</text>
<text x="1158.1" y="3067" text-anchor="middle" font-family="TeX Gyre Heros, Liberation Sans, Arial, sans-serif" font-size="68">45</text>
<text x="1332.9" y="3067" text-anchor="middle" font-family="TeX Gyre Heros, Liberation Sans, Arial, sans-serif" font-size="68">50</text>
<text x="1507.8" y="3067" text-anchor="middle" font-family="TeX Gyre Heros, Liberation Sans, Arial, sans-serif" font-size="68">55</text>
<text x="1682.6" y="3067" text-anchor="middle" font-family="TeX Gyre Heros, Liberation Sans, Arial, sans-serif" font-size="68">60</text>
<text x="1857.4" y="3067" text-anchor="middle" font-family="TeX Gyre Heros, Liberation Sans, Arial, sans-serif" font-size="68">65</text>
<text x="1072.5" y="3170.4" text-anchor="middle" font-family="Liberation Sans, Arial, sans-serif" font-weight="bold" font-size="73"><tspan font-style="italic">T</tspan> (ºC)</text>
<text transform="translate(109.2,2312.5) rotate(-90)" x="0" y="0" text-anchor="middle" font-family="Liberation Sans, Arial, sans-serif" font-weight="bold" font-size="73">SPA (W/g)</text>
<text x="19.5" y="1758" font-family="Carlito, Calibri, Liberation Sans, sans-serif" font-size="89">(b)</text>
<line x1="954" y1="1782" x2="1080" y2="1782" stroke="#000000" stroke-width="16" stroke-linecap="round"/>
<text x="1095.1" y="1799.2" font-family="Carlito, Calibri, Liberation Sans, sans-serif" font-weight="bold" font-size="57" textLength="401.67" lengthAdjust="spacingAndGlyphs">782 kHz at 0.03 T</text>
<text x="1502.5" y="1799.2" font-family="Carlito, Calibri, Liberation Sans, sans-serif" font-weight="bold" font-size="57" textLength="40.6" lengthAdjust="spacingAndGlyphs">–</text>
<text x="1550.7" y="1799.2" font-family="Carlito, Calibri, Liberation Sans, sans-serif" font-weight="bold" font-size="57" textLength="244.42" lengthAdjust="spacingAndGlyphs">CoFe1_OA</text>
<line x1="954" y1="1851" x2="1080" y2="1851" stroke="#000080" stroke-width="16" stroke-linecap="round"/>
<text x="1095.1" y="1871.0" font-family="Carlito, Calibri, Liberation Sans, sans-serif" font-weight="bold" font-size="57" textLength="401.67" lengthAdjust="spacingAndGlyphs">782 kHz at 0.03 T</text>
<text x="1502.5" y="1871.0" font-family="Carlito, Calibri, Liberation Sans, sans-serif" font-weight="bold" font-size="57" textLength="40.6" lengthAdjust="spacingAndGlyphs">–</text>
<text x="1550.7" y="1871.0" font-family="Carlito, Calibri, Liberation Sans, sans-serif" font-weight="bold" font-size="57" textLength="244.42" lengthAdjust="spacingAndGlyphs">CoFe2_OA</text>
<line x1="954" y1="1921.8" x2="1080" y2="1921.8" stroke="#ef8229" stroke-width="16" stroke-linecap="round"/>
<text x="1095.1" y="1943.0" font-family="Carlito, Calibri, Liberation Sans, sans-serif" font-weight="bold" font-size="57" textLength="401.67" lengthAdjust="spacingAndGlyphs">782 kHz at 0.03 T</text>
<text x="1502.5" y="1943.0" font-family="Carlito, Calibri, Liberation Sans, sans-serif" font-weight="bold" font-size="57" textLength="40.6" lengthAdjust="spacingAndGlyphs">–</text>
<text x="1550.7" y="1943.0" font-family="Carlito, Calibri, Liberation Sans, sans-serif" font-weight="bold" font-size="57" textLength="227.59" lengthAdjust="spacingAndGlyphs">CoFe_MA</text>
<line x1="954" y1="1990.6" x2="1080" y2="1990.6" stroke="#c80000" stroke-width="16" stroke-linecap="round"/>
<text x="1095.1" y="2015.0" font-family="Carlito, Calibri, Liberation Sans, sans-serif" font-weight="bold" font-size="57" textLength="401.67" lengthAdjust="spacingAndGlyphs">782 kHz at 0.03 T</text>
<text x="1502.5" y="2015.0" font-family="Carlito, Calibri, Liberation Sans, sans-serif" font-weight="bold" font-size="57" textLength="40.6" lengthAdjust="spacingAndGlyphs">–</text>
<text x="1550.7" y="2015.0" font-family="Carlito, Calibri, Liberation Sans, sans-serif" font-weight="bold" font-size="57" textLength="206.61" lengthAdjust="spacingAndGlyphs">CoFe_FU</text>
</svg></body></html>
